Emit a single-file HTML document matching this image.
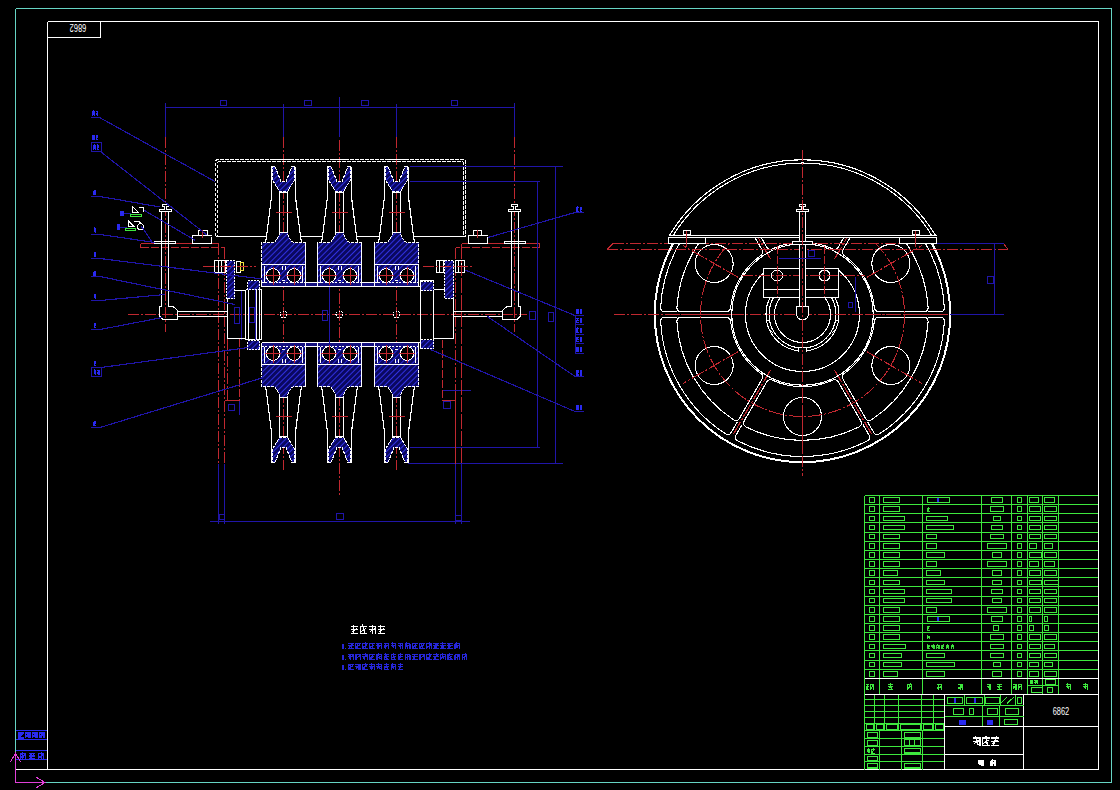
<!DOCTYPE html>
<html><head><meta charset="utf-8"><title>CAD</title>
<style>html,body{margin:0;padding:0;background:#000;overflow:hidden}svg{display:block}</style></head>
<body><svg shape-rendering="crispEdges" width="1120" height="790" viewBox="0 0 1120 790">
<rect width="1120" height="790" fill="#000"/>
<defs>
<pattern id="hatch" patternUnits="userSpaceOnUse" width="4" height="4" patternTransform="rotate(45)">
<rect width="4" height="4" fill="#0a0860"/><line x1="0" y1="0" x2="0" y2="4" stroke="#3030e0" stroke-width="1.4"/></pattern>
<filter id="soft" x="-5%" y="-20%" width="110%" height="140%"><feGaussianBlur stdDeviation="0.45"/></filter>
<clipPath id="wclip"><rect x="600" y="238" width="420" height="245"/></clipPath>
<clipPath id="hclip"><rect x="600" y="268.5" width="420" height="240"/></clipPath>
<clipPath id="rclip"><rect x="600" y="243.5" width="420" height="240"/></clipPath>
<clipPath id="bclip"><rect x="700" y="297.5" width="200" height="100"/></clipPath>
</defs>
<line x1="15.5" y1="8.5" x2="1111.5" y2="8.5" stroke="#66d4c4" stroke-width="1"/>
<line x1="1111.5" y1="8.5" x2="1111.5" y2="782.5" stroke="#66d4c4" stroke-width="1"/>
<line x1="45" y1="782.5" x2="1111.5" y2="782.5" stroke="#66d4c4" stroke-width="1"/>
<line x1="15.5" y1="8.5" x2="15.5" y2="752" stroke="#66d4c4" stroke-width="1"/>
<line x1="47.5" y1="21.5" x2="1098.5" y2="21.5" stroke="#ffffff" stroke-width="1"/>
<line x1="1098.5" y1="21.5" x2="1098.5" y2="769.5" stroke="#ffffff" stroke-width="1"/>
<line x1="16" y1="769.5" x2="1098.5" y2="769.5" stroke="#ffffff" stroke-width="1"/>
<line x1="47.5" y1="21.5" x2="47.5" y2="769.5" stroke="#ffffff" stroke-width="1"/>
<line x1="47.5" y1="37.5" x2="100.5" y2="37.5" stroke="#ffffff" stroke-width="1"/>
<line x1="100.5" y1="21.5" x2="100.5" y2="37.5" stroke="#ffffff" stroke-width="1"/>
<text x="78" y="31.6" font-family="Liberation Sans" font-size="10.5" fill="#ffffff" text-anchor="middle" transform="rotate(180 78 27.8)" textLength="16.6" lengthAdjust="spacingAndGlyphs">6862</text>
<line x1="15.5" y1="730.5" x2="47" y2="730.5" stroke="#2a2af0" stroke-width="1"/>
<line x1="15.5" y1="739.5" x2="47" y2="739.5" stroke="#2a2af0" stroke-width="1"/>
<line x1="15.5" y1="750.5" x2="47" y2="750.5" stroke="#2a2af0" stroke-width="1"/>
<line x1="15.5" y1="759.5" x2="47" y2="759.5" stroke="#2a2af0" stroke-width="1"/>
<g filter="url(#soft)">
<path d="M18 733.2L23.5 733.2 M19.65 732L20.75 738 M18.5 733.8L18.5 738 M18 738L23.5 738 M18.82 736.8L22.68 734.4" fill="none" stroke="#2a2af0" stroke-width="1.5"/>
<path d="M25 733.2L30.5 733.2 M26.65 732L28.85 738 M25.5 733.8L25.5 738 M30 733.2L30 738 M25.82 736.8L29.68 734.4" fill="none" stroke="#2a2af0" stroke-width="1.5"/>
<path d="M32 733.2L37.5 733.2 M34.75 732L35.85 738 M32.5 733.8L32.5 738 M37 733.2L37 738 M32.83 736.8L36.67 734.4" fill="none" stroke="#2a2af0" stroke-width="1.5"/>
<path d="M39 733.2L44.5 733.2 M42.85 732L40.65 738 M39.5 733.8L39.5 738 M44 733.2L44 738 M39.83 736.8L43.67 734.4" fill="none" stroke="#2a2af0" stroke-width="1.5"/>
<path d="M20 753.7L26 753.7 M21.8 752.5L23 758.5 M20.5 754.3L20.5 758.5 M25.5 753.7L25.5 758.5 M20.9 757.3L25.1 754.9" fill="none" stroke="#2a2af0" stroke-width="1.5"/>
<path d="M29 753.7L35 753.7 M30.8 752.5L30.8 758.5 M29 755.8L35 755.8 M29 758.5L35 758.5 M29.9 757.3L34.1 754.9" fill="none" stroke="#2a2af0" stroke-width="1.5"/>
<path d="M38 753.7L44 753.7 M42.2 752.5L41 758.5 M38.5 754.3L38.5 758.5 M43.5 753.7L43.5 758.5 M38.9 757.3L43.1 754.9" fill="none" stroke="#2a2af0" stroke-width="1.5"/>
</g>
<line x1="15.5" y1="753" x2="15.5" y2="782.5" stroke="#e040d8" stroke-width="1.2"/>
<line x1="15.5" y1="782.5" x2="45" y2="782.5" stroke="#e040d8" stroke-width="1.2"/>
<polyline points="10.5,762 15.5,753 20.5,762" fill="none" stroke="#e040d8" stroke-width="1"/>
<polyline points="36,777 45,782.5 36,788" fill="none" stroke="#e040d8" stroke-width="1"/>
<line x1="165.5" y1="107.5" x2="514.5" y2="107.5" stroke="#2015a8" stroke-width="1"/>
<line x1="165.5" y1="103" x2="165.5" y2="137" stroke="#2015a8" stroke-width="1"/>
<line x1="283.5" y1="104" x2="283.5" y2="137" stroke="#2015a8" stroke-width="1"/>
<line x1="339.5" y1="97" x2="339.5" y2="137" stroke="#2015a8" stroke-width="1"/>
<line x1="396.5" y1="104" x2="396.5" y2="137" stroke="#2015a8" stroke-width="1"/>
<line x1="514.5" y1="103" x2="514.5" y2="137" stroke="#2015a8" stroke-width="1"/>
<rect x="220.5" y="100.5" width="6" height="5" fill="none" stroke="#2015a8" stroke-width="1"/>
<rect x="304.5" y="100.5" width="7" height="5" fill="none" stroke="#2015a8" stroke-width="1"/>
<rect x="361.5" y="100.5" width="7" height="5" fill="none" stroke="#2015a8" stroke-width="1"/>
<rect x="451.5" y="100.5" width="6" height="5" fill="none" stroke="#2015a8" stroke-width="1"/>
<line x1="165.5" y1="137" x2="165.5" y2="332" stroke="#c02830" stroke-width="1" stroke-dasharray="11,2,2,2"/>
<line x1="514.5" y1="137" x2="514.5" y2="332" stroke="#c02830" stroke-width="1" stroke-dasharray="11,2,2,2"/>
<line x1="283.5" y1="137" x2="283.5" y2="470" stroke="#c02830" stroke-width="1" stroke-dasharray="11,2,2,2"/>
<line x1="396.5" y1="137" x2="396.5" y2="470" stroke="#c02830" stroke-width="1" stroke-dasharray="11,2,2,2"/>
<line x1="339.5" y1="140" x2="339.5" y2="495" stroke="#c02830" stroke-width="1" stroke-dasharray="11,2,2,2"/>
<line x1="128" y1="314.5" x2="527" y2="314.5" stroke="#c02830" stroke-width="1" stroke-dasharray="11,2,2,2"/>
<line x1="140.5" y1="243.5" x2="218.5" y2="243.5" stroke="#c02830" stroke-width="1"/>
<line x1="140.5" y1="247.5" x2="224.5" y2="247.5" stroke="#c02830" stroke-width="1" stroke-dasharray="8,2"/>
<line x1="140.5" y1="243.5" x2="140.5" y2="247.5" stroke="#c02830" stroke-width="1"/>
<line x1="218.5" y1="243.5" x2="218.5" y2="464" stroke="#c02830" stroke-width="1" stroke-dasharray="11,2,2,2"/>
<line x1="224.5" y1="247.5" x2="224.5" y2="464" stroke="#c02830" stroke-width="1" stroke-dasharray="11,2,2,2"/>
<line x1="218.5" y1="464" x2="218.5" y2="524" stroke="#2015a8" stroke-width="1"/>
<line x1="224.5" y1="464" x2="224.5" y2="524" stroke="#2015a8" stroke-width="1"/>
<line x1="539.5" y1="243.5" x2="461.5" y2="243.5" stroke="#c02830" stroke-width="1"/>
<line x1="539.5" y1="247.5" x2="455.5" y2="247.5" stroke="#c02830" stroke-width="1" stroke-dasharray="8,2"/>
<line x1="539.5" y1="243.5" x2="539.5" y2="247.5" stroke="#c02830" stroke-width="1"/>
<line x1="461.5" y1="243.5" x2="461.5" y2="464" stroke="#c02830" stroke-width="1" stroke-dasharray="11,2,2,2"/>
<line x1="455.5" y1="247.5" x2="455.5" y2="464" stroke="#c02830" stroke-width="1" stroke-dasharray="11,2,2,2"/>
<line x1="461.5" y1="464" x2="461.5" y2="524" stroke="#2015a8" stroke-width="1"/>
<line x1="455.5" y1="464" x2="455.5" y2="524" stroke="#2015a8" stroke-width="1"/>
<line x1="239.5" y1="339" x2="239.5" y2="400.5" stroke="#c02830" stroke-width="1" stroke-dasharray="8,2"/>
<line x1="227.5" y1="338.5" x2="227.5" y2="400.5" stroke="#c02830" stroke-width="1" stroke-dasharray="11,2,2,2"/>
<line x1="224.5" y1="400.5" x2="239.5" y2="400.5" stroke="#c02830" stroke-width="1"/>
<line x1="239.5" y1="400.5" x2="239.5" y2="415" stroke="#2015a8" stroke-width="1"/>
<rect x="228.5" y="404.5" width="6" height="6" fill="none" stroke="#2015a8" stroke-width="1"/>
<line x1="442.5" y1="340" x2="442.5" y2="400.5" stroke="#c02830" stroke-width="1" stroke-dasharray="8,2"/>
<line x1="442.5" y1="400.5" x2="455.5" y2="400.5" stroke="#c02830" stroke-width="1"/>
<line x1="442.5" y1="390.5" x2="471" y2="390.5" stroke="#2015a8" stroke-width="1"/>
<rect x="443.5" y="401.5" width="7" height="7" fill="none" stroke="#2015a8" stroke-width="1"/>
<path d="M215.5,236 L215.5,162 Q215.5,159.5 218,159.5 L463,159.5 Q465.5,159.5 465.5,162 L465.5,236" fill="none" stroke="#ffffff" stroke-width="1" stroke-dasharray="3.5,1.5"/>
<path d="M217.5,236 L217.5,163.5 Q217.5,161.5 219.5,161.5 L461.5,161.5 Q463.5,161.5 463.5,163.5 L463.5,236" fill="none" stroke="#ffffff" stroke-width="1" stroke-dasharray="3.5,1.5" stroke-dashoffset="2"/>
<line x1="273.5" y1="159.5" x2="292" y2="159.5" stroke="#ffffff" stroke-width="1"/>
<line x1="329.5" y1="159.5" x2="348" y2="159.5" stroke="#ffffff" stroke-width="1"/>
<line x1="386.5" y1="159.5" x2="405" y2="159.5" stroke="#ffffff" stroke-width="1"/>
<line x1="215.5" y1="236.5" x2="266.5" y2="236.5" stroke="#ffffff" stroke-width="1"/>
<line x1="300.5" y1="236.5" x2="322.5" y2="236.5" stroke="#ffffff" stroke-width="1"/>
<line x1="356.5" y1="236.5" x2="379.5" y2="236.5" stroke="#ffffff" stroke-width="1"/>
<line x1="413.5" y1="236.5" x2="465.5" y2="236.5" stroke="#ffffff" stroke-width="1"/>
<polygon points="279.5,232 279,235 277.5,238.5 275,241.5 273.5,242.5 261.5,242.5 261.5,264.5 261.5,286.5 305.5,286.5 305.5,264.5 261.5,264.5 305.5,264.5 305.5,242.5 293.5,242.5 292,241.5 289.5,238.5 288,235 287.5,232" fill="url(#hatch)" stroke="none" stroke-width="0"/>
<polyline points="279.5,232 279,235 277.5,238.5 275,241.5 273.5,242.5 261.5,242.5 261.5,264.5 305.5,264.5 305.5,242.5 293.5,242.5 292,241.5 289.5,238.5 288,235 287.5,232" fill="none" stroke="#ffffff" stroke-width="1" stroke-dasharray="3,1"/>
<line x1="261.5" y1="264.5" x2="261.5" y2="286.5" stroke="#ffffff" stroke-width="1"/>
<line x1="305.5" y1="264.5" x2="305.5" y2="286.5" stroke="#ffffff" stroke-width="1"/>
<line x1="261.5" y1="264.5" x2="305.5" y2="264.5" stroke="#ffffff" stroke-width="1" stroke-dasharray="3,1"/>
<line x1="264.5" y1="266" x2="264.5" y2="284" stroke="#ffffff" stroke-width="1"/>
<line x1="302.5" y1="266" x2="302.5" y2="284" stroke="#ffffff" stroke-width="1"/>
<line x1="282.5" y1="266" x2="282.5" y2="270" stroke="#ffffff" stroke-width="1"/>
<line x1="285.5" y1="266" x2="285.5" y2="270" stroke="#ffffff" stroke-width="1"/>
<line x1="282" y1="280.5" x2="285" y2="280.5" stroke="#ffffff" stroke-width="1"/>
<rect x="262" y="282.5" width="43" height="3.5" fill="#141080"/>
<line x1="261.5" y1="282.5" x2="305.5" y2="282.5" stroke="#ffffff" stroke-width="1" stroke-dasharray="2,1.5"/>
<circle cx="273" cy="275.5" r="6.8" fill="#000" stroke="#ffffff" stroke-width="1"/>
<line x1="265" y1="275.5" x2="281" y2="275.5" stroke="#c02830" stroke-width="1"/>
<line x1="273.5" y1="266.5" x2="273.5" y2="284.5" stroke="#c02830" stroke-width="1"/>
<circle cx="294" cy="275.5" r="6.8" fill="#000" stroke="#ffffff" stroke-width="1"/>
<line x1="286" y1="275.5" x2="302" y2="275.5" stroke="#c02830" stroke-width="1"/>
<line x1="294.5" y1="266.5" x2="294.5" y2="284.5" stroke="#c02830" stroke-width="1"/>
<rect x="279.5" y="192.5" width="8" height="40" fill="none" stroke="#ffffff" stroke-width="1"/>
<polyline points="271.5,166.5 271.5,197 266.5,236.5 265.5,242.5" fill="none" stroke="#ffffff" stroke-width="1.15"/>
<polyline points="295.5,166.5 295.5,197 300.5,236.5 301.5,242.5" fill="none" stroke="#ffffff" stroke-width="1.15"/>
<polygon points="272,166.5 275,166.5 281,181.5 286,181.5 292,166.5 295,166.5 294.5,180 287.5,191.5 279.5,191.5 272.5,180" fill="url(#hatch)" stroke="none" stroke-width="0"/>
<polygon points="272,166.5 275,166.5 281,181.5 286,181.5 292,166.5 295,166.5 294.5,180 287.5,191.5 279.5,191.5 272.5,180" fill="none" stroke="#ffffff" stroke-width="1" stroke-dasharray="3,1"/>
<line x1="275.5" y1="212.5" x2="291.5" y2="212.5" stroke="#c02830" stroke-width="1"/>
<polygon points="279.5,397 279,394 277.5,390.5 275,387.5 273.5,386.5 261.5,386.5 261.5,364.5 261.5,342.5 305.5,342.5 305.5,364.5 261.5,364.5 305.5,364.5 305.5,386.5 293.5,386.5 292,387.5 289.5,390.5 288,394 287.5,397" fill="url(#hatch)" stroke="none" stroke-width="0"/>
<polyline points="279.5,397 279,394 277.5,390.5 275,387.5 273.5,386.5 261.5,386.5 261.5,364.5 305.5,364.5 305.5,386.5 293.5,386.5 292,387.5 289.5,390.5 288,394 287.5,397" fill="none" stroke="#ffffff" stroke-width="1" stroke-dasharray="3,1"/>
<line x1="261.5" y1="364.5" x2="261.5" y2="342.5" stroke="#ffffff" stroke-width="1"/>
<line x1="305.5" y1="364.5" x2="305.5" y2="342.5" stroke="#ffffff" stroke-width="1"/>
<line x1="261.5" y1="364.5" x2="305.5" y2="364.5" stroke="#ffffff" stroke-width="1" stroke-dasharray="3,1"/>
<line x1="264.5" y1="363" x2="264.5" y2="345" stroke="#ffffff" stroke-width="1"/>
<line x1="302.5" y1="363" x2="302.5" y2="345" stroke="#ffffff" stroke-width="1"/>
<line x1="282.5" y1="363" x2="282.5" y2="359" stroke="#ffffff" stroke-width="1"/>
<line x1="285.5" y1="363" x2="285.5" y2="359" stroke="#ffffff" stroke-width="1"/>
<line x1="282" y1="349.5" x2="285" y2="349.5" stroke="#ffffff" stroke-width="1"/>
<rect x="262" y="343" width="43" height="3.5" fill="#141080"/>
<line x1="261.5" y1="346.5" x2="305.5" y2="346.5" stroke="#ffffff" stroke-width="1" stroke-dasharray="2,1.5"/>
<circle cx="273" cy="353.5" r="6.8" fill="#000" stroke="#ffffff" stroke-width="1"/>
<line x1="265" y1="353.5" x2="281" y2="353.5" stroke="#c02830" stroke-width="1"/>
<line x1="273.5" y1="362.5" x2="273.5" y2="344.5" stroke="#c02830" stroke-width="1"/>
<circle cx="294" cy="353.5" r="6.8" fill="#000" stroke="#ffffff" stroke-width="1"/>
<line x1="286" y1="353.5" x2="302" y2="353.5" stroke="#c02830" stroke-width="1"/>
<line x1="294.5" y1="362.5" x2="294.5" y2="344.5" stroke="#c02830" stroke-width="1"/>
<rect x="279.5" y="397.5" width="8" height="39" fill="none" stroke="#ffffff" stroke-width="1"/>
<polyline points="271.5,462.5 271.5,432 266.5,392.5 265.5,386.5" fill="none" stroke="#ffffff" stroke-width="1.15"/>
<polyline points="295.5,462.5 295.5,432 300.5,392.5 301.5,386.5" fill="none" stroke="#ffffff" stroke-width="1.15"/>
<polygon points="272,462.5 275,462.5 281,447.5 286,447.5 292,462.5 295,462.5 294.5,449 287.5,437.5 279.5,437.5 272.5,449" fill="url(#hatch)" stroke="none" stroke-width="0"/>
<polygon points="272,462.5 275,462.5 281,447.5 286,447.5 292,462.5 295,462.5 294.5,449 287.5,437.5 279.5,437.5 272.5,449" fill="none" stroke="#ffffff" stroke-width="1" stroke-dasharray="3,1"/>
<line x1="275.5" y1="416.5" x2="291.5" y2="416.5" stroke="#c02830" stroke-width="1"/>
<polygon points="335.5,232 335,235 333.5,238.5 331,241.5 329.5,242.5 317.5,242.5 317.5,264.5 317.5,286.5 361.5,286.5 361.5,264.5 317.5,264.5 361.5,264.5 361.5,242.5 349.5,242.5 348,241.5 345.5,238.5 344,235 343.5,232" fill="url(#hatch)" stroke="none" stroke-width="0"/>
<polyline points="335.5,232 335,235 333.5,238.5 331,241.5 329.5,242.5 317.5,242.5 317.5,264.5 361.5,264.5 361.5,242.5 349.5,242.5 348,241.5 345.5,238.5 344,235 343.5,232" fill="none" stroke="#ffffff" stroke-width="1" stroke-dasharray="3,1"/>
<line x1="317.5" y1="264.5" x2="317.5" y2="286.5" stroke="#ffffff" stroke-width="1"/>
<line x1="361.5" y1="264.5" x2="361.5" y2="286.5" stroke="#ffffff" stroke-width="1"/>
<line x1="317.5" y1="264.5" x2="361.5" y2="264.5" stroke="#ffffff" stroke-width="1" stroke-dasharray="3,1"/>
<line x1="320.5" y1="266" x2="320.5" y2="284" stroke="#ffffff" stroke-width="1"/>
<line x1="358.5" y1="266" x2="358.5" y2="284" stroke="#ffffff" stroke-width="1"/>
<line x1="338.5" y1="266" x2="338.5" y2="270" stroke="#ffffff" stroke-width="1"/>
<line x1="341.5" y1="266" x2="341.5" y2="270" stroke="#ffffff" stroke-width="1"/>
<line x1="338" y1="280.5" x2="341" y2="280.5" stroke="#ffffff" stroke-width="1"/>
<rect x="318" y="282.5" width="43" height="3.5" fill="#141080"/>
<line x1="317.5" y1="282.5" x2="361.5" y2="282.5" stroke="#ffffff" stroke-width="1" stroke-dasharray="2,1.5"/>
<circle cx="329" cy="275.5" r="6.8" fill="#000" stroke="#ffffff" stroke-width="1"/>
<line x1="321" y1="275.5" x2="337" y2="275.5" stroke="#c02830" stroke-width="1"/>
<line x1="329.5" y1="266.5" x2="329.5" y2="284.5" stroke="#c02830" stroke-width="1"/>
<circle cx="350" cy="275.5" r="6.8" fill="#000" stroke="#ffffff" stroke-width="1"/>
<line x1="342" y1="275.5" x2="358" y2="275.5" stroke="#c02830" stroke-width="1"/>
<line x1="350.5" y1="266.5" x2="350.5" y2="284.5" stroke="#c02830" stroke-width="1"/>
<rect x="335.5" y="192.5" width="8" height="40" fill="none" stroke="#ffffff" stroke-width="1"/>
<polyline points="327.5,166.5 327.5,197 322.5,236.5 321.5,242.5" fill="none" stroke="#ffffff" stroke-width="1.15"/>
<polyline points="351.5,166.5 351.5,197 356.5,236.5 357.5,242.5" fill="none" stroke="#ffffff" stroke-width="1.15"/>
<polygon points="328,166.5 331,166.5 337,181.5 342,181.5 348,166.5 351,166.5 350.5,180 343.5,191.5 335.5,191.5 328.5,180" fill="url(#hatch)" stroke="none" stroke-width="0"/>
<polygon points="328,166.5 331,166.5 337,181.5 342,181.5 348,166.5 351,166.5 350.5,180 343.5,191.5 335.5,191.5 328.5,180" fill="none" stroke="#ffffff" stroke-width="1" stroke-dasharray="3,1"/>
<line x1="331.5" y1="212.5" x2="347.5" y2="212.5" stroke="#c02830" stroke-width="1"/>
<polygon points="335.5,397 335,394 333.5,390.5 331,387.5 329.5,386.5 317.5,386.5 317.5,364.5 317.5,342.5 361.5,342.5 361.5,364.5 317.5,364.5 361.5,364.5 361.5,386.5 349.5,386.5 348,387.5 345.5,390.5 344,394 343.5,397" fill="url(#hatch)" stroke="none" stroke-width="0"/>
<polyline points="335.5,397 335,394 333.5,390.5 331,387.5 329.5,386.5 317.5,386.5 317.5,364.5 361.5,364.5 361.5,386.5 349.5,386.5 348,387.5 345.5,390.5 344,394 343.5,397" fill="none" stroke="#ffffff" stroke-width="1" stroke-dasharray="3,1"/>
<line x1="317.5" y1="364.5" x2="317.5" y2="342.5" stroke="#ffffff" stroke-width="1"/>
<line x1="361.5" y1="364.5" x2="361.5" y2="342.5" stroke="#ffffff" stroke-width="1"/>
<line x1="317.5" y1="364.5" x2="361.5" y2="364.5" stroke="#ffffff" stroke-width="1" stroke-dasharray="3,1"/>
<line x1="320.5" y1="363" x2="320.5" y2="345" stroke="#ffffff" stroke-width="1"/>
<line x1="358.5" y1="363" x2="358.5" y2="345" stroke="#ffffff" stroke-width="1"/>
<line x1="338.5" y1="363" x2="338.5" y2="359" stroke="#ffffff" stroke-width="1"/>
<line x1="341.5" y1="363" x2="341.5" y2="359" stroke="#ffffff" stroke-width="1"/>
<line x1="338" y1="349.5" x2="341" y2="349.5" stroke="#ffffff" stroke-width="1"/>
<rect x="318" y="343" width="43" height="3.5" fill="#141080"/>
<line x1="317.5" y1="346.5" x2="361.5" y2="346.5" stroke="#ffffff" stroke-width="1" stroke-dasharray="2,1.5"/>
<circle cx="329" cy="353.5" r="6.8" fill="#000" stroke="#ffffff" stroke-width="1"/>
<line x1="321" y1="353.5" x2="337" y2="353.5" stroke="#c02830" stroke-width="1"/>
<line x1="329.5" y1="362.5" x2="329.5" y2="344.5" stroke="#c02830" stroke-width="1"/>
<circle cx="350" cy="353.5" r="6.8" fill="#000" stroke="#ffffff" stroke-width="1"/>
<line x1="342" y1="353.5" x2="358" y2="353.5" stroke="#c02830" stroke-width="1"/>
<line x1="350.5" y1="362.5" x2="350.5" y2="344.5" stroke="#c02830" stroke-width="1"/>
<rect x="335.5" y="397.5" width="8" height="39" fill="none" stroke="#ffffff" stroke-width="1"/>
<polyline points="327.5,462.5 327.5,432 322.5,392.5 321.5,386.5" fill="none" stroke="#ffffff" stroke-width="1.15"/>
<polyline points="351.5,462.5 351.5,432 356.5,392.5 357.5,386.5" fill="none" stroke="#ffffff" stroke-width="1.15"/>
<polygon points="328,462.5 331,462.5 337,447.5 342,447.5 348,462.5 351,462.5 350.5,449 343.5,437.5 335.5,437.5 328.5,449" fill="url(#hatch)" stroke="none" stroke-width="0"/>
<polygon points="328,462.5 331,462.5 337,447.5 342,447.5 348,462.5 351,462.5 350.5,449 343.5,437.5 335.5,437.5 328.5,449" fill="none" stroke="#ffffff" stroke-width="1" stroke-dasharray="3,1"/>
<line x1="331.5" y1="416.5" x2="347.5" y2="416.5" stroke="#c02830" stroke-width="1"/>
<polygon points="392.5,232 392,235 390.5,238.5 388,241.5 386.5,242.5 374.5,242.5 374.5,264.5 374.5,286.5 418.5,286.5 418.5,264.5 374.5,264.5 418.5,264.5 418.5,242.5 406.5,242.5 405,241.5 402.5,238.5 401,235 400.5,232" fill="url(#hatch)" stroke="none" stroke-width="0"/>
<polyline points="392.5,232 392,235 390.5,238.5 388,241.5 386.5,242.5 374.5,242.5 374.5,264.5 418.5,264.5 418.5,242.5 406.5,242.5 405,241.5 402.5,238.5 401,235 400.5,232" fill="none" stroke="#ffffff" stroke-width="1" stroke-dasharray="3,1"/>
<line x1="374.5" y1="264.5" x2="374.5" y2="286.5" stroke="#ffffff" stroke-width="1"/>
<line x1="418.5" y1="264.5" x2="418.5" y2="286.5" stroke="#ffffff" stroke-width="1"/>
<line x1="374.5" y1="264.5" x2="418.5" y2="264.5" stroke="#ffffff" stroke-width="1" stroke-dasharray="3,1"/>
<line x1="377.5" y1="266" x2="377.5" y2="284" stroke="#ffffff" stroke-width="1"/>
<line x1="415.5" y1="266" x2="415.5" y2="284" stroke="#ffffff" stroke-width="1"/>
<line x1="395.5" y1="266" x2="395.5" y2="270" stroke="#ffffff" stroke-width="1"/>
<line x1="398.5" y1="266" x2="398.5" y2="270" stroke="#ffffff" stroke-width="1"/>
<line x1="395" y1="280.5" x2="398" y2="280.5" stroke="#ffffff" stroke-width="1"/>
<rect x="375" y="282.5" width="43" height="3.5" fill="#141080"/>
<line x1="374.5" y1="282.5" x2="418.5" y2="282.5" stroke="#ffffff" stroke-width="1" stroke-dasharray="2,1.5"/>
<circle cx="386" cy="275.5" r="6.8" fill="#000" stroke="#ffffff" stroke-width="1"/>
<line x1="378" y1="275.5" x2="394" y2="275.5" stroke="#c02830" stroke-width="1"/>
<line x1="386.5" y1="266.5" x2="386.5" y2="284.5" stroke="#c02830" stroke-width="1"/>
<circle cx="407" cy="275.5" r="6.8" fill="#000" stroke="#ffffff" stroke-width="1"/>
<line x1="399" y1="275.5" x2="415" y2="275.5" stroke="#c02830" stroke-width="1"/>
<line x1="407.5" y1="266.5" x2="407.5" y2="284.5" stroke="#c02830" stroke-width="1"/>
<rect x="392.5" y="192.5" width="8" height="40" fill="none" stroke="#ffffff" stroke-width="1"/>
<polyline points="384.5,166.5 384.5,197 379.5,236.5 378.5,242.5" fill="none" stroke="#ffffff" stroke-width="1.15"/>
<polyline points="408.5,166.5 408.5,197 413.5,236.5 414.5,242.5" fill="none" stroke="#ffffff" stroke-width="1.15"/>
<polygon points="385,166.5 388,166.5 394,181.5 399,181.5 405,166.5 408,166.5 407.5,180 400.5,191.5 392.5,191.5 385.5,180" fill="url(#hatch)" stroke="none" stroke-width="0"/>
<polygon points="385,166.5 388,166.5 394,181.5 399,181.5 405,166.5 408,166.5 407.5,180 400.5,191.5 392.5,191.5 385.5,180" fill="none" stroke="#ffffff" stroke-width="1" stroke-dasharray="3,1"/>
<line x1="388.5" y1="212.5" x2="404.5" y2="212.5" stroke="#c02830" stroke-width="1"/>
<polygon points="392.5,397 392,394 390.5,390.5 388,387.5 386.5,386.5 374.5,386.5 374.5,364.5 374.5,342.5 418.5,342.5 418.5,364.5 374.5,364.5 418.5,364.5 418.5,386.5 406.5,386.5 405,387.5 402.5,390.5 401,394 400.5,397" fill="url(#hatch)" stroke="none" stroke-width="0"/>
<polyline points="392.5,397 392,394 390.5,390.5 388,387.5 386.5,386.5 374.5,386.5 374.5,364.5 418.5,364.5 418.5,386.5 406.5,386.5 405,387.5 402.5,390.5 401,394 400.5,397" fill="none" stroke="#ffffff" stroke-width="1" stroke-dasharray="3,1"/>
<line x1="374.5" y1="364.5" x2="374.5" y2="342.5" stroke="#ffffff" stroke-width="1"/>
<line x1="418.5" y1="364.5" x2="418.5" y2="342.5" stroke="#ffffff" stroke-width="1"/>
<line x1="374.5" y1="364.5" x2="418.5" y2="364.5" stroke="#ffffff" stroke-width="1" stroke-dasharray="3,1"/>
<line x1="377.5" y1="363" x2="377.5" y2="345" stroke="#ffffff" stroke-width="1"/>
<line x1="415.5" y1="363" x2="415.5" y2="345" stroke="#ffffff" stroke-width="1"/>
<line x1="395.5" y1="363" x2="395.5" y2="359" stroke="#ffffff" stroke-width="1"/>
<line x1="398.5" y1="363" x2="398.5" y2="359" stroke="#ffffff" stroke-width="1"/>
<line x1="395" y1="349.5" x2="398" y2="349.5" stroke="#ffffff" stroke-width="1"/>
<rect x="375" y="343" width="43" height="3.5" fill="#141080"/>
<line x1="374.5" y1="346.5" x2="418.5" y2="346.5" stroke="#ffffff" stroke-width="1" stroke-dasharray="2,1.5"/>
<circle cx="386" cy="353.5" r="6.8" fill="#000" stroke="#ffffff" stroke-width="1"/>
<line x1="378" y1="353.5" x2="394" y2="353.5" stroke="#c02830" stroke-width="1"/>
<line x1="386.5" y1="362.5" x2="386.5" y2="344.5" stroke="#c02830" stroke-width="1"/>
<circle cx="407" cy="353.5" r="6.8" fill="#000" stroke="#ffffff" stroke-width="1"/>
<line x1="399" y1="353.5" x2="415" y2="353.5" stroke="#c02830" stroke-width="1"/>
<line x1="407.5" y1="362.5" x2="407.5" y2="344.5" stroke="#c02830" stroke-width="1"/>
<rect x="392.5" y="397.5" width="8" height="39" fill="none" stroke="#ffffff" stroke-width="1"/>
<polyline points="384.5,462.5 384.5,432 379.5,392.5 378.5,386.5" fill="none" stroke="#ffffff" stroke-width="1.15"/>
<polyline points="408.5,462.5 408.5,432 413.5,392.5 414.5,386.5" fill="none" stroke="#ffffff" stroke-width="1.15"/>
<polygon points="385,462.5 388,462.5 394,447.5 399,447.5 405,462.5 408,462.5 407.5,449 400.5,437.5 392.5,437.5 385.5,449" fill="url(#hatch)" stroke="none" stroke-width="0"/>
<polygon points="385,462.5 388,462.5 394,447.5 399,447.5 405,462.5 408,462.5 407.5,449 400.5,437.5 392.5,437.5 385.5,449" fill="none" stroke="#ffffff" stroke-width="1" stroke-dasharray="3,1"/>
<line x1="388.5" y1="416.5" x2="404.5" y2="416.5" stroke="#c02830" stroke-width="1"/>
<rect x="305.5" y="282.5" width="12" height="4" fill="#141080" stroke="#ffffff" stroke-width="1"/>
<rect x="305.5" y="342.5" width="12" height="4" fill="#141080" stroke="#ffffff" stroke-width="1"/>
<line x1="305.5" y1="243" x2="305.5" y2="282.5" stroke="#ffffff" stroke-width="1"/>
<line x1="317.5" y1="243" x2="317.5" y2="282.5" stroke="#ffffff" stroke-width="1"/>
<line x1="305.5" y1="386" x2="305.5" y2="346.5" stroke="#ffffff" stroke-width="1"/>
<line x1="317.5" y1="386" x2="317.5" y2="346.5" stroke="#ffffff" stroke-width="1"/>
<rect x="361.5" y="282.5" width="13" height="4" fill="#141080" stroke="#ffffff" stroke-width="1"/>
<rect x="361.5" y="342.5" width="13" height="4" fill="#141080" stroke="#ffffff" stroke-width="1"/>
<line x1="361.5" y1="243" x2="361.5" y2="282.5" stroke="#ffffff" stroke-width="1"/>
<line x1="374.5" y1="243" x2="374.5" y2="282.5" stroke="#ffffff" stroke-width="1"/>
<line x1="361.5" y1="386" x2="361.5" y2="346.5" stroke="#ffffff" stroke-width="1"/>
<line x1="374.5" y1="386" x2="374.5" y2="346.5" stroke="#ffffff" stroke-width="1"/>
<line x1="261.5" y1="286.5" x2="420" y2="286.5" stroke="#ffffff" stroke-width="1"/>
<line x1="261.5" y1="342.5" x2="420" y2="342.5" stroke="#ffffff" stroke-width="1"/>
<line x1="329.5" y1="286.5" x2="329.5" y2="342.5" stroke="#2015a8" stroke-width="1"/>
<rect x="322.5" y="310.5" width="5" height="10" fill="none" stroke="#2015a8" stroke-width="1"/>
<circle cx="283.5" cy="314.5" r="3.5" fill="none" stroke="#ffffff" stroke-width="1" stroke-dasharray="2,1"/>
<circle cx="339.5" cy="314.5" r="3.5" fill="none" stroke="#ffffff" stroke-width="1" stroke-dasharray="2,1"/>
<circle cx="396.5" cy="314.5" r="3.5" fill="none" stroke="#ffffff" stroke-width="1" stroke-dasharray="2,1"/>
<line x1="245.5" y1="289.5" x2="245.5" y2="339.5" stroke="#ffffff" stroke-width="1"/>
<line x1="248.5" y1="289.5" x2="248.5" y2="339.5" stroke="#ffffff" stroke-width="1"/>
<line x1="256.5" y1="289.5" x2="256.5" y2="339.5" stroke="#ffffff" stroke-width="1"/>
<line x1="259.5" y1="289.5" x2="259.5" y2="339.5" stroke="#ffffff" stroke-width="1"/>
<line x1="261.5" y1="289.5" x2="261.5" y2="339.5" stroke="#ffffff" stroke-width="1"/>
<line x1="245.5" y1="289.5" x2="261.5" y2="289.5" stroke="#ffffff" stroke-width="1"/>
<line x1="245.5" y1="339.5" x2="261.5" y2="339.5" stroke="#ffffff" stroke-width="1"/>
<rect x="247.5" y="280.5" width="12" height="9" fill="url(#hatch)" stroke="#ffffff" stroke-width="1" stroke-dasharray="2,1"/>
<rect x="247.5" y="340.5" width="12" height="9" fill="url(#hatch)" stroke="#ffffff" stroke-width="1" stroke-dasharray="2,1"/>
<line x1="241.5" y1="290" x2="241.5" y2="340" stroke="#2015a8" stroke-width="1"/>
<line x1="255.5" y1="290" x2="255.5" y2="340" stroke="#2015a8" stroke-width="1"/>
<rect x="234.5" y="307.5" width="5" height="16" fill="none" stroke="#2015a8" stroke-width="1"/>
<rect x="249.5" y="307.5" width="5" height="15" fill="none" stroke="#2015a8" stroke-width="1"/>
<rect x="226.5" y="260.5" width="8" height="38" fill="url(#hatch)" stroke="#ffffff" stroke-width="1" stroke-dasharray="2,1"/>
<line x1="227.5" y1="298" x2="227.5" y2="338.5" stroke="#ffffff" stroke-width="1"/>
<line x1="227.5" y1="338.5" x2="245" y2="338.5" stroke="#ffffff" stroke-width="1"/>
<line x1="234.5" y1="290.5" x2="245" y2="290.5" stroke="#ffffff" stroke-width="1"/>
<rect x="214.5" y="260.5" width="11" height="12" fill="none" stroke="#ffffff" stroke-width="1"/>
<line x1="218.5" y1="260.5" x2="218.5" y2="272.5" stroke="#ffffff" stroke-width="1"/>
<line x1="221.5" y1="260.5" x2="221.5" y2="272.5" stroke="#ffffff" stroke-width="1"/>
<rect x="236.5" y="261.5" width="4" height="11" fill="none" stroke="#ffffff" stroke-width="1"/>
<rect x="240.5" y="262.5" width="3" height="8" fill="none" stroke="#f0e040" stroke-width="1"/>
<line x1="203" y1="266.5" x2="256" y2="266.5" stroke="#c02830" stroke-width="1" stroke-dasharray="11,2,2,2"/>
<rect x="420.5" y="280.5" width="13" height="68" fill="none" stroke="#ffffff" stroke-width="1"/>
<rect x="433.5" y="289.5" width="20" height="49" fill="none" stroke="#ffffff" stroke-width="1"/>
<rect x="420.5" y="281.5" width="13" height="9" fill="url(#hatch)" stroke="#ffffff" stroke-width="1" stroke-dasharray="2,1"/>
<rect x="420.5" y="339.5" width="13" height="9" fill="url(#hatch)" stroke="#ffffff" stroke-width="1" stroke-dasharray="2,1"/>
<rect x="444.5" y="260.5" width="9" height="38" fill="url(#hatch)" stroke="#ffffff" stroke-width="1" stroke-dasharray="2,1"/>
<rect x="436.5" y="260.5" width="7" height="12" fill="none" stroke="#ffffff" stroke-width="1"/>
<line x1="439.5" y1="260.5" x2="439.5" y2="272" stroke="#ffffff" stroke-width="1"/>
<rect x="455.5" y="260.5" width="9" height="12" fill="none" stroke="#ffffff" stroke-width="1"/>
<line x1="458.5" y1="260.5" x2="458.5" y2="272" stroke="#ffffff" stroke-width="1"/>
<line x1="461.5" y1="260.5" x2="461.5" y2="272" stroke="#ffffff" stroke-width="1"/>
<line x1="423" y1="266.5" x2="472" y2="266.5" stroke="#c02830" stroke-width="1" stroke-dasharray="11,2,2,2"/>
<line x1="177.5" y1="311.5" x2="227.5" y2="311.5" stroke="#ffffff" stroke-width="1"/>
<line x1="177.5" y1="316.5" x2="227.5" y2="316.5" stroke="#ffffff" stroke-width="1"/>
<polyline points="161.5,306.5 159.5,306.5 159.5,316 163,319.5 177.5,319.5 177.5,310.5 173,306.5 169,306.5" fill="none" stroke="#ffffff" stroke-width="1"/>
<line x1="161.5" y1="211.5" x2="161.5" y2="306.5" stroke="#ffffff" stroke-width="1"/>
<line x1="168.5" y1="211.5" x2="168.5" y2="306.5" stroke="#ffffff" stroke-width="1"/>
<path d="M162.7 204.5 L168.3 204.5 L168.3 206.5 L166.7 206.5 L166.7 209.3 L171.2 209.3 L171.2 211.7 L159.8 211.7 L159.8 209.3 L164.3 209.3 L164.3 206.5 L162.7 206.5 Z" fill="#000" stroke="#ffffff" stroke-width="1.1"/>
<rect x="154.5" y="241.5" width="21" height="2" fill="none" stroke="#ffffff" stroke-width="1"/>
<rect x="192.5" y="235.5" width="19" height="8" fill="none" stroke="#ffffff" stroke-width="1"/>
<line x1="192.5" y1="236.5" x2="211.5" y2="236.5" stroke="#000" stroke-width="1" stroke-dasharray="3,1"/>
<rect x="198.5" y="230.5" width="9" height="5" fill="none" stroke="#ffffff" stroke-width="1"/>
<line x1="202.5" y1="230" x2="202.5" y2="238" stroke="#c02830" stroke-width="1"/>
<line x1="502.5" y1="311.5" x2="452.5" y2="311.5" stroke="#ffffff" stroke-width="1"/>
<line x1="502.5" y1="316.5" x2="452.5" y2="316.5" stroke="#ffffff" stroke-width="1"/>
<polyline points="518.5,306.5 520.5,306.5 520.5,316 517,319.5 502.5,319.5 502.5,310.5 507,306.5 511,306.5" fill="none" stroke="#ffffff" stroke-width="1"/>
<line x1="518.5" y1="211.5" x2="518.5" y2="306.5" stroke="#ffffff" stroke-width="1"/>
<line x1="511.5" y1="211.5" x2="511.5" y2="306.5" stroke="#ffffff" stroke-width="1"/>
<path d="M511.7 204.5 L517.3 204.5 L517.3 206.5 L515.7 206.5 L515.7 209.3 L520.2 209.3 L520.2 211.7 L508.8 211.7 L508.8 209.3 L513.3 209.3 L513.3 206.5 L511.7 206.5 Z" fill="#000" stroke="#ffffff" stroke-width="1.1"/>
<rect x="504.5" y="241.5" width="21" height="2" fill="none" stroke="#ffffff" stroke-width="1"/>
<rect x="468.5" y="235.5" width="19" height="8" fill="none" stroke="#ffffff" stroke-width="1"/>
<line x1="468.5" y1="236.5" x2="487.5" y2="236.5" stroke="#000" stroke-width="1" stroke-dasharray="3,1"/>
<rect x="473.5" y="230.5" width="8" height="5" fill="none" stroke="#ffffff" stroke-width="1"/>
<line x1="477.5" y1="230" x2="477.5" y2="238" stroke="#c02830" stroke-width="1"/>
<line x1="409.5" y1="166.5" x2="563" y2="166.5" stroke="#2015a8" stroke-width="1"/>
<line x1="555.5" y1="166.5" x2="555.5" y2="463.5" stroke="#2015a8" stroke-width="1"/>
<line x1="408" y1="463.5" x2="563" y2="463.5" stroke="#2015a8" stroke-width="1"/>
<line x1="409.5" y1="181.5" x2="540" y2="181.5" stroke="#2015a8" stroke-width="1"/>
<line x1="537.5" y1="181.5" x2="537.5" y2="447.5" stroke="#2015a8" stroke-width="1"/>
<line x1="410" y1="447.5" x2="540" y2="447.5" stroke="#2015a8" stroke-width="1"/>
<rect x="529.5" y="311.5" width="6" height="8" fill="none" stroke="#2015a8" stroke-width="1"/>
<rect x="548.5" y="312.5" width="5" height="9" fill="none" stroke="#2015a8" stroke-width="1"/>
<rect x="529.5" y="311.5" width="6" height="8" fill="none" stroke="#2015a8" stroke-width="1"/>
<line x1="210" y1="521.5" x2="470" y2="521.5" stroke="#2015a8" stroke-width="1"/>
<line x1="455.5" y1="464" x2="455.5" y2="522" stroke="#2015a8" stroke-width="1"/>
<line x1="461.5" y1="464" x2="461.5" y2="522" stroke="#2015a8" stroke-width="1"/>
<line x1="455.5" y1="395" x2="455.5" y2="464" stroke="#c02830" stroke-width="1" stroke-dasharray="11,2,2,2"/>
<line x1="461.5" y1="247.5" x2="461.5" y2="464" stroke="#c02830" stroke-width="1" stroke-dasharray="11,2,2,2"/>
<rect x="336.5" y="513.5" width="7" height="6" fill="none" stroke="#2015a8" stroke-width="1"/>
<rect x="219.5" y="514.5" width="5" height="5" fill="none" stroke="#2015a8" stroke-width="1"/>
<rect x="455.5" y="515.5" width="6" height="5" fill="none" stroke="#2015a8" stroke-width="1"/>
<g filter="url(#soft)">
<path d="M92 111.5L94.6 111.5 M93.82 110.5L92.78 115.5 M92.5 112L92.5 115.5 M94.1 111.5L94.1 115.5 M92.39 114.5L94.21 112.5" fill="none" stroke="#2a2af0" stroke-width="1.1"/>
<path d="M95.6 111.5L98.2 111.5 M97.42 110.5L97.42 115.5 M95.6 113.25L98.2 113.25 M97.7 111.5L97.7 115.5 M95.99 114.5L97.81 112.5" fill="none" stroke="#2a2af0" stroke-width="1.1"/>
</g>
<line x1="91" y1="117.5" x2="99.5" y2="117.5" stroke="#2015a8" stroke-width="1"/>
<line x1="99.5" y1="117.5" x2="215" y2="181.5" stroke="#2015a8" stroke-width="1.15"/>
<g filter="url(#soft)">
<path d="M92 135.5L94.6 135.5 M93.82 134.5L93.82 139.5 M92.5 136L92.5 139.5 M94.1 135.5L94.1 139.5 M92.39 138.5L94.21 136.5" fill="none" stroke="#2a2af0" stroke-width="1.1"/>
<path d="M95.6 135.5L98.2 135.5 M96.38 134.5L96.38 139.5 M95.6 137.25L98.2 137.25 M95.6 139.5L98.2 139.5 M95.99 138.5L97.81 136.5" fill="none" stroke="#2a2af0" stroke-width="1.1"/>
</g>
<rect x="91.5" y="142.5" width="10" height="9" fill="none" stroke="#2015a8" stroke-width="1"/>
<g filter="url(#soft)">
<path d="M93 145.5L95.6 145.5 M94.82 144.5L93.78 149.5 M93.5 146L93.5 149.5 M95.1 145.5L95.1 149.5 M93.39 148.5L95.21 146.5" fill="none" stroke="#2a2af0" stroke-width="1.1"/>
<path d="M96.6 145.5L99.2 145.5 M97.9 144.5L97.38 149.5 M97.1 146L97.1 149.5 M96.6 149.5L99.2 149.5 M96.99 148.5L98.81 146.5" fill="none" stroke="#2a2af0" stroke-width="1.1"/>
</g>
<line x1="101" y1="152" x2="207" y2="235" stroke="#2015a8" stroke-width="1.15"/>
<g filter="url(#soft)">
<path d="M93.5 190.5L96.1 190.5 M95.32 189.5L94.8 194.5 M94 191L94 194.5 M95.6 190.5L95.6 194.5 M93.89 193.5L95.71 191.5" fill="none" stroke="#2a2af0" stroke-width="1.1"/>
</g>
<line x1="91" y1="196.5" x2="100" y2="196.5" stroke="#2015a8" stroke-width="1"/>
<line x1="100" y1="196.5" x2="160" y2="207" stroke="#2015a8" stroke-width="1.15"/>
<g filter="url(#soft)">
<path d="M93.5 228.5L96.1 228.5 M94.28 227.5L95.32 232.5 M93.5 230.25L96.1 230.25 M95.6 228.5L95.6 232.5 M93.89 231.5L95.71 229.5" fill="none" stroke="#2a2af0" stroke-width="1.1"/>
</g>
<line x1="91" y1="234.5" x2="100" y2="234.5" stroke="#2015a8" stroke-width="1"/>
<line x1="100" y1="234.5" x2="155" y2="242.5" stroke="#2015a8" stroke-width="1.15"/>
<g filter="url(#soft)">
<path d="M93.5 253L96.1 253 M94.8 252L94.28 257 M93.5 254.75L96.1 254.75 M95.6 253L95.6 257 M93.89 256L95.71 254" fill="none" stroke="#2a2af0" stroke-width="1.1"/>
</g>
<line x1="91" y1="258.5" x2="100" y2="258.5" stroke="#2015a8" stroke-width="1"/>
<line x1="100" y1="258.5" x2="262" y2="279" stroke="#2015a8" stroke-width="1.15"/>
<g filter="url(#soft)">
<path d="M93.5 271.5L96.1 271.5 M95.32 270.5L94.28 275.5 M94 272L94 275.5 M95.6 271.5L95.6 275.5 M93.89 274.5L95.71 272.5" fill="none" stroke="#2a2af0" stroke-width="1.1"/>
</g>
<line x1="91" y1="276.5" x2="100" y2="276.5" stroke="#2015a8" stroke-width="1"/>
<line x1="100" y1="276.5" x2="235" y2="304.5" stroke="#2015a8" stroke-width="1.15"/>
<g filter="url(#soft)">
<path d="M93.5 294.5L96.1 294.5 M94.8 293.5L95.32 298.5 M93.5 296.25L96.1 296.25 M95.6 294.5L95.6 298.5 M93.89 297.5L95.71 295.5" fill="none" stroke="#2a2af0" stroke-width="1.1"/>
</g>
<line x1="91" y1="300.5" x2="100" y2="300.5" stroke="#2015a8" stroke-width="1"/>
<line x1="100" y1="300.5" x2="165" y2="294.5" stroke="#2015a8" stroke-width="1.15"/>
<g filter="url(#soft)">
<path d="M93.5 323.5L96.1 323.5 M94.8 322.5L94.8 327.5 M93.5 325.25L96.1 325.25 M93.5 327.5L96.1 327.5 M93.89 326.5L95.71 324.5" fill="none" stroke="#2a2af0" stroke-width="1.1"/>
</g>
<line x1="91" y1="329.5" x2="100" y2="329.5" stroke="#2015a8" stroke-width="1"/>
<line x1="100" y1="329.5" x2="162.5" y2="317.5" stroke="#2015a8" stroke-width="1.15"/>
<g filter="url(#soft)">
<path d="M93.5 361.5L96.1 361.5 M94.8 360.5L94.8 365.5 M93.5 363.25L96.1 363.25 M93.5 365.5L96.1 365.5 M93.89 364.5L95.71 362.5" fill="none" stroke="#2a2af0" stroke-width="1.1"/>
</g>
<line x1="91" y1="367.5" x2="101" y2="367.5" stroke="#2015a8" stroke-width="1"/>
<rect x="91.5" y="367.5" width="10" height="9" fill="none" stroke="#2015a8" stroke-width="1"/>
<g filter="url(#soft)">
<path d="M93.5 370.5L96.1 370.5 M94.28 369.5L95.32 374.5 M93.5 372.25L96.1 372.25 M95.6 370.5L95.6 374.5 M93.89 373.5L95.71 371.5" fill="none" stroke="#2a2af0" stroke-width="1.1"/>
<path d="M97.1 370.5L99.7 370.5 M97.88 369.5L98.92 374.5 M97.1 372.25L99.7 372.25 M99.2 370.5L99.2 374.5 M97.49 373.5L99.31 371.5" fill="none" stroke="#2a2af0" stroke-width="1.1"/>
</g>
<line x1="101" y1="367.5" x2="248.5" y2="347.5" stroke="#2015a8" stroke-width="1.15"/>
<g filter="url(#soft)">
<path d="M93.5 421.5L96.1 421.5 M95.32 420.5L94.8 425.5 M94 422L94 425.5 M93.5 425.5L96.1 425.5 M93.89 424.5L95.71 422.5" fill="none" stroke="#2a2af0" stroke-width="1.1"/>
</g>
<line x1="91" y1="427.5" x2="100" y2="427.5" stroke="#2015a8" stroke-width="1"/>
<line x1="100" y1="427.5" x2="263.5" y2="377.5" stroke="#2015a8" stroke-width="1.15"/>
<rect x="120" y="210.5" width="3.5" height="5" fill="#2a2af0"/>
<line x1="123.5" y1="213.5" x2="131" y2="213.5" stroke="#2015a8" stroke-width="1"/>
<polygon points="132.5,212.5 132.5,206.5 138.5,212.5" fill="none" stroke="#ffffff" stroke-width="1"/>
<polyline points="138.5,207 143.5,207 143.5,212" fill="none" stroke="#ffffff" stroke-width="1"/>
<rect x="130.5" y="214.5" width="11" height="2" fill="none" stroke="#3ee83e" stroke-width="1"/>
<rect x="116.5" y="224" width="3.5" height="5.5" fill="#2a2af0"/>
<line x1="120" y1="227.5" x2="127" y2="227.5" stroke="#2015a8" stroke-width="1"/>
<polygon points="128,226.5 128,220.5 134,226.5" fill="none" stroke="#ffffff" stroke-width="1"/>
<polyline points="134,221 139,221 140.5,223" fill="none" stroke="#ffffff" stroke-width="1"/>
<circle cx="140.5" cy="226.5" r="3" fill="none" stroke="#ffffff" stroke-width="1"/>
<rect x="125.5" y="228.5" width="10" height="2" fill="none" stroke="#3ee83e" stroke-width="1"/>
<line x1="144.5" y1="210.5" x2="195.5" y2="240.5" stroke="#2015a8" stroke-width="1.15"/>
<line x1="140.8" y1="225.6" x2="151.4" y2="240.8" stroke="#2015a8" stroke-width="1.15"/>
<g filter="url(#soft)">
<path d="M576 207.5L578.6 207.5 M577.82 206.5L577.3 211.5 M576.5 208L576.5 211.5 M576 211.5L578.6 211.5 M576.39 210.5L578.21 208.5" fill="none" stroke="#2a2af0" stroke-width="1.1"/>
<path d="M579.6 207.5L582.2 207.5 M581.42 206.5L580.38 211.5 M580.1 208L580.1 211.5 M579.6 211.5L582.2 211.5 M579.99 210.5L581.81 208.5" fill="none" stroke="#2a2af0" stroke-width="1.1"/>
</g>
<line x1="575" y1="212.5" x2="583.5" y2="212.5" stroke="#2015a8" stroke-width="1"/>
<line x1="575" y1="212.5" x2="488" y2="237.5" stroke="#2015a8" stroke-width="1.15"/>
<line x1="575" y1="315.5" x2="583.5" y2="315.5" stroke="#2015a8" stroke-width="1"/>
<g filter="url(#soft)">
<path d="M576 310L578.6 310 M577.82 309L577.3 314 M576.5 310.5L576.5 314 M578.1 310L578.1 314 M576.39 313L578.21 311" fill="none" stroke="#2a2af0" stroke-width="1.1"/>
<path d="M579.6 310L582.2 310 M580.9 309L580.38 314 M579.6 311.75L582.2 311.75 M581.7 310L581.7 314 M579.99 313L581.81 311" fill="none" stroke="#2a2af0" stroke-width="1.1"/>
</g>
<line x1="575" y1="324.5" x2="583.5" y2="324.5" stroke="#2015a8" stroke-width="1"/>
<g filter="url(#soft)">
<path d="M576 318.5L578.6 318.5 M577.3 317.5L576.78 322.5 M576 320.25L578.6 320.25 M576 322.5L578.6 322.5 M576.39 321.5L578.21 319.5" fill="none" stroke="#2a2af0" stroke-width="1.1"/>
<path d="M579.6 318.5L582.2 318.5 M581.42 317.5L581.42 322.5 M580.1 319L580.1 322.5 M581.7 318.5L581.7 322.5 M579.99 321.5L581.81 319.5" fill="none" stroke="#2a2af0" stroke-width="1.1"/>
</g>
<line x1="575" y1="334.5" x2="583.5" y2="334.5" stroke="#2015a8" stroke-width="1"/>
<g filter="url(#soft)">
<path d="M576 328.5L578.6 328.5 M577.3 327.5L577.82 332.5 M576.5 329L576.5 332.5 M576 332.5L578.6 332.5 M576.39 331.5L578.21 329.5" fill="none" stroke="#2a2af0" stroke-width="1.1"/>
<path d="M579.6 328.5L582.2 328.5 M581.42 327.5L580.9 332.5 M580.1 329L580.1 332.5 M579.6 332.5L582.2 332.5 M579.99 331.5L581.81 329.5" fill="none" stroke="#2a2af0" stroke-width="1.1"/>
</g>
<line x1="575" y1="343.5" x2="583.5" y2="343.5" stroke="#2015a8" stroke-width="1"/>
<g filter="url(#soft)">
<path d="M576 337.5L578.6 337.5 M576.78 336.5L576.78 341.5 M576 339.25L578.6 339.25 M576 341.5L578.6 341.5 M576.39 340.5L578.21 338.5" fill="none" stroke="#2a2af0" stroke-width="1.1"/>
<path d="M579.6 337.5L582.2 337.5 M580.9 336.5L581.42 341.5 M580.1 338L580.1 341.5 M579.6 341.5L582.2 341.5 M579.99 340.5L581.81 338.5" fill="none" stroke="#2a2af0" stroke-width="1.1"/>
</g>
<line x1="575" y1="353.5" x2="583.5" y2="353.5" stroke="#2015a8" stroke-width="1"/>
<g filter="url(#soft)">
<path d="M576 347.5L578.6 347.5 M576.78 346.5L577.82 351.5 M576.5 348L576.5 351.5 M578.1 347.5L578.1 351.5 M576.39 350.5L578.21 348.5" fill="none" stroke="#2a2af0" stroke-width="1.1"/>
<path d="M579.6 347.5L582.2 347.5 M581.42 346.5L581.42 351.5 M580.1 348L580.1 351.5 M579.6 351.5L582.2 351.5 M579.99 350.5L581.81 348.5" fill="none" stroke="#2a2af0" stroke-width="1.1"/>
</g>
<line x1="575.5" y1="315.5" x2="575.5" y2="353" stroke="#2015a8" stroke-width="1"/>
<line x1="575" y1="315.5" x2="465" y2="270" stroke="#2015a8" stroke-width="1.15"/>
<g filter="url(#soft)">
<path d="M576 371L578.6 371 M577.3 370L577.82 375 M576 372.75L578.6 372.75 M576 375L578.6 375 M576.39 374L578.21 372" fill="none" stroke="#2a2af0" stroke-width="1.1"/>
<path d="M579.6 371L582.2 371 M581.42 370L580.9 375 M579.6 372.75L582.2 372.75 M579.6 375L582.2 375 M579.99 374L581.81 372" fill="none" stroke="#2a2af0" stroke-width="1.1"/>
</g>
<line x1="575" y1="376.5" x2="583.5" y2="376.5" stroke="#2015a8" stroke-width="1"/>
<line x1="575" y1="376.5" x2="487.5" y2="316.5" stroke="#2015a8" stroke-width="1.15"/>
<g filter="url(#soft)">
<path d="M576 406L578.6 406 M577.3 405L577.3 410 M576.5 406.5L576.5 410 M578.1 406L578.1 410 M576.39 409L578.21 407" fill="none" stroke="#2a2af0" stroke-width="1.1"/>
<path d="M579.6 406L582.2 406 M581.42 405L580.38 410 M579.6 407.75L582.2 407.75 M581.7 406L581.7 410 M579.99 409L581.81 407" fill="none" stroke="#2a2af0" stroke-width="1.1"/>
</g>
<line x1="575" y1="411.5" x2="583.5" y2="411.5" stroke="#2015a8" stroke-width="1"/>
<line x1="575" y1="411.5" x2="430.5" y2="349.5" stroke="#2015a8" stroke-width="1.15"/>
<g clip-path="url(#wclip)">
<circle cx="802.5" cy="314.5" r="147.65" fill="none" stroke="#ffffff" stroke-width="2"/>
<path d="M923.77 311.8 Q928.27 311.8 928.09 307.3 A125.8 125.8 0 0 0 871.53 209.33 Q867.72 206.93 865.47 210.83 L843.16 249.47 Q840.91 253.37 844.65 255.88 A72.2 72.2 0 0 1 874.34 307.31 Q874.65 311.8 879.15 311.8 Z" fill="none" stroke="#ffffff" stroke-width="1.1"/>
<path d="M939.97 311.8 Q944.47 311.8 944.32 307.3 A142 142 0 0 0 879.64 195.28 Q875.83 192.9 873.58 196.79" fill="none" stroke="#ffffff" stroke-width="1.1"/>
<path d="M860.8 208.13 Q863.05 204.23 859.06 202.13 A125.8 125.8 0 0 0 745.94 202.13 Q741.95 204.23 744.2 208.13 L766.51 246.77 Q768.76 250.67 772.8 248.69 A72.2 72.2 0 0 1 832.2 248.69 Q836.24 250.67 838.49 246.77 Z" fill="none" stroke="#ffffff" stroke-width="1.1"/>
<path d="M868.9 194.09 Q871.15 190.2 867.18 188.08 A142 142 0 0 0 737.82 188.08 Q733.85 190.2 736.1 194.09" fill="none" stroke="#ffffff" stroke-width="1.1"/>
<path d="M739.53 210.83 Q737.28 206.93 733.47 209.33 A125.8 125.8 0 0 0 676.91 307.3 Q676.73 311.8 681.23 311.8 L725.85 311.8 Q730.35 311.8 730.66 307.31 A72.2 72.2 0 0 1 760.35 255.88 Q764.09 253.37 761.84 249.47 Z" fill="none" stroke="#ffffff" stroke-width="1.1"/>
<path d="M731.42 196.79 Q729.17 192.9 725.36 195.28 A142 142 0 0 0 660.68 307.3 Q660.53 311.8 665.03 311.8" fill="none" stroke="#ffffff" stroke-width="1.1"/>
<path d="M681.23 317.2 Q676.73 317.2 676.91 321.7 A125.8 125.8 0 0 0 733.47 419.67 Q737.28 422.07 739.53 418.17 L761.84 379.53 Q764.09 375.63 760.35 373.12 A72.2 72.2 0 0 1 730.66 321.69 Q730.35 317.2 725.85 317.2 Z" fill="none" stroke="#ffffff" stroke-width="1.1"/>
<path d="M665.03 317.2 Q660.53 317.2 660.68 321.7 A142 142 0 0 0 725.36 433.72 Q729.17 436.1 731.42 432.21" fill="none" stroke="#ffffff" stroke-width="1.1"/>
<path d="M744.2 420.87 Q741.95 424.77 745.94 426.87 A125.8 125.8 0 0 0 859.06 426.87 Q863.05 424.77 860.8 420.87 L838.49 382.23 Q836.24 378.33 832.2 380.31 A72.2 72.2 0 0 1 772.8 380.31 Q768.76 378.33 766.51 382.23 Z" fill="none" stroke="#ffffff" stroke-width="1.1"/>
<path d="M736.1 434.91 Q733.85 438.8 737.82 440.92 A142 142 0 0 0 867.18 440.92 Q871.15 438.8 868.9 434.91" fill="none" stroke="#ffffff" stroke-width="1.1"/>
<path d="M865.47 418.17 Q867.72 422.07 871.53 419.67 A125.8 125.8 0 0 0 928.09 321.7 Q928.27 317.2 923.77 317.2 L879.15 317.2 Q874.65 317.2 874.34 321.69 A72.2 72.2 0 0 1 844.65 373.12 Q840.91 375.63 843.16 379.53 Z" fill="none" stroke="#ffffff" stroke-width="1.1"/>
<path d="M873.58 432.21 Q875.83 436.1 879.64 433.72 A142 142 0 0 0 944.32 321.7 Q944.47 317.2 939.97 317.2" fill="none" stroke="#ffffff" stroke-width="1.1"/>
<line x1="928.27" y1="311.8" x2="940.47" y2="311.8" stroke="#ffffff" stroke-width="1.1"/>
<line x1="928.27" y1="317.2" x2="940.47" y2="317.2" stroke="#ffffff" stroke-width="1.1"/>
<line x1="866.5" y1="314.5" x2="942.5" y2="314.5" stroke="#c02830" stroke-width="1" stroke-dasharray="14,2,2,2"/>
<line x1="863.05" y1="204.23" x2="869.15" y2="193.66" stroke="#ffffff" stroke-width="1.1"/>
<line x1="867.72" y1="206.93" x2="873.83" y2="196.36" stroke="#ffffff" stroke-width="1.1"/>
<line x1="834.5" y1="259.07" x2="872.5" y2="193.26" stroke="#c02830" stroke-width="1.15" stroke-dasharray="14,2,2,2"/>
<line x1="737.28" y1="206.93" x2="731.17" y2="196.36" stroke="#ffffff" stroke-width="1.1"/>
<line x1="741.95" y1="204.23" x2="735.85" y2="193.66" stroke="#ffffff" stroke-width="1.1"/>
<line x1="770.5" y1="259.07" x2="732.5" y2="193.26" stroke="#c02830" stroke-width="1.15" stroke-dasharray="14,2,2,2"/>
<line x1="676.73" y1="317.2" x2="664.53" y2="317.2" stroke="#ffffff" stroke-width="1.1"/>
<line x1="676.73" y1="311.8" x2="664.53" y2="311.8" stroke="#ffffff" stroke-width="1.1"/>
<line x1="738.5" y1="314.5" x2="662.5" y2="314.5" stroke="#c02830" stroke-width="1" stroke-dasharray="14,2,2,2"/>
<line x1="741.95" y1="424.77" x2="735.85" y2="435.34" stroke="#ffffff" stroke-width="1.1"/>
<line x1="737.28" y1="422.07" x2="731.17" y2="432.64" stroke="#ffffff" stroke-width="1.1"/>
<line x1="770.5" y1="369.93" x2="732.5" y2="435.74" stroke="#c02830" stroke-width="1.15" stroke-dasharray="14,2,2,2"/>
<line x1="867.72" y1="422.07" x2="873.83" y2="432.64" stroke="#ffffff" stroke-width="1.1"/>
<line x1="863.05" y1="424.77" x2="869.15" y2="435.34" stroke="#ffffff" stroke-width="1.1"/>
<line x1="834.5" y1="369.93" x2="872.5" y2="435.74" stroke="#c02830" stroke-width="1.15" stroke-dasharray="14,2,2,2"/>
<circle cx="802.5" cy="314.5" r="70.7" fill="none" stroke="#ffffff" stroke-width="1.1"/>
<g clip-path="url(#hclip)">
<circle cx="802.5" cy="314.5" r="57" fill="none" stroke="#ffffff" stroke-width="1.1"/>
</g>
<circle cx="890.83" cy="263.5" r="19" fill="none" stroke="#ffffff" stroke-width="1.1"/>
<line x1="866.59" y1="277.5" x2="922.01" y2="245.5" stroke="#c02830" stroke-width="1.15" stroke-dasharray="14,2,2,2"/>
<circle cx="714.17" cy="263.5" r="19" fill="none" stroke="#ffffff" stroke-width="1.1"/>
<line x1="738.41" y1="277.5" x2="682.99" y2="245.5" stroke="#c02830" stroke-width="1.15" stroke-dasharray="14,2,2,2"/>
<circle cx="714.17" cy="365.5" r="19" fill="none" stroke="#ffffff" stroke-width="1.1"/>
<line x1="738.41" y1="351.5" x2="682.99" y2="383.5" stroke="#c02830" stroke-width="1.15" stroke-dasharray="14,2,2,2"/>
<circle cx="802.5" cy="416.5" r="19" fill="none" stroke="#ffffff" stroke-width="1.1"/>
<line x1="802.5" y1="388.5" x2="802.5" y2="452.5" stroke="#c02830" stroke-width="1" stroke-dasharray="14,2,2,2"/>
<circle cx="890.83" cy="365.5" r="19" fill="none" stroke="#ffffff" stroke-width="1.1"/>
<line x1="866.59" y1="351.5" x2="922.01" y2="383.5" stroke="#c02830" stroke-width="1.15" stroke-dasharray="14,2,2,2"/>
</g>
<g clip-path="url(#rclip)">
<circle cx="802.5" cy="314.5" r="102" fill="none" stroke="#c02830" stroke-width="1" stroke-dasharray="14,2,2,2"/>
</g>
<line x1="613" y1="243.5" x2="900" y2="243.5" stroke="#c02830" stroke-width="1" stroke-dasharray="11,2,2,2"/>
<line x1="607" y1="249.5" x2="1008" y2="249.5" stroke="#c02830" stroke-width="1" stroke-dasharray="11,2,2,2"/>
<line x1="613" y1="243.5" x2="607" y2="249.5" stroke="#c02830" stroke-width="1.15"/>
<line x1="1003.5" y1="243.5" x2="1008" y2="249.5" stroke="#c02830" stroke-width="1.15"/>
<path d="M669.49 235.5 A154.7 154.7 0 0 1 935.51 235.5" fill="none" stroke="#ffffff" stroke-width="1.1"/>
<path d="M673.23 235.5 A151.5 151.5 0 0 1 931.77 235.5" fill="none" stroke="#ffffff" stroke-width="1.1"/>
<line x1="669" y1="235.5" x2="937" y2="235.5" stroke="#ffffff" stroke-width="1"/>
<rect x="668.5" y="237.5" width="37" height="6" fill="#000" stroke="#ffffff" stroke-width="1"/>
<rect x="899.5" y="237.5" width="37" height="6" fill="#000" stroke="#ffffff" stroke-width="1"/>
<line x1="668.5" y1="237.5" x2="936.5" y2="237.5" stroke="#ffffff" stroke-width="1"/>
<rect x="683.5" y="230.5" width="7" height="4" fill="none" stroke="#ffffff" stroke-width="1"/>
<rect x="912.5" y="230.5" width="7" height="4" fill="none" stroke="#ffffff" stroke-width="1"/>
<line x1="686.5" y1="231" x2="686.5" y2="247" stroke="#c02830" stroke-width="1"/>
<line x1="915.5" y1="231" x2="915.5" y2="247" stroke="#c02830" stroke-width="1"/>
<g clip-path="url(#bclip)">
<circle cx="802.5" cy="314.5" r="28" fill="none" stroke="#ffffff" stroke-width="1.1"/>
<circle cx="802.5" cy="314.5" r="33.5" fill="none" stroke="#ffffff" stroke-width="1.1"/>
<circle cx="802.5" cy="314.5" r="36.5" fill="none" stroke="#ffffff" stroke-width="1.1"/>
</g>
<rect x="798" y="347" width="9" height="5" fill="#000"/>
<polyline points="798.5,351.5 798.5,347.5 806.5,347.5 806.5,351.5" fill="none" stroke="#ffffff" stroke-width="1"/>
<polyline points="766,320.5 769,320.5" fill="none" stroke="#ffffff" stroke-width="1"/>
<polyline points="770.5,330.5 773,333" fill="none" stroke="#ffffff" stroke-width="1"/>
<polyline points="839,320.5 836,320.5" fill="none" stroke="#ffffff" stroke-width="1"/>
<polyline points="834.5,330.5 832,333" fill="none" stroke="#ffffff" stroke-width="1"/>
<rect x="763.5" y="268.5" width="75" height="29" fill="#000" stroke="#ffffff" stroke-width="1"/>
<line x1="763.5" y1="289.5" x2="838.5" y2="289.5" stroke="#ffffff" stroke-width="1"/>
<circle cx="777" cy="275.5" r="5.5" fill="none" stroke="#ffffff" stroke-width="1"/>
<circle cx="824.5" cy="275.5" r="5.5" fill="none" stroke="#ffffff" stroke-width="1"/>
<line x1="742" y1="275.5" x2="865" y2="275.5" stroke="#c02830" stroke-width="1" stroke-dasharray="11,2,2,2"/>
<line x1="777.5" y1="246" x2="777.5" y2="297" stroke="#c02830" stroke-width="1" stroke-dasharray="8,2"/>
<line x1="824.5" y1="246" x2="824.5" y2="297" stroke="#c02830" stroke-width="1" stroke-dasharray="8,2"/>
<line x1="613.5" y1="314.5" x2="1003" y2="314.5" stroke="#c02830" stroke-width="1" stroke-dasharray="11,2,2,2"/>
<line x1="802.5" y1="150" x2="802.5" y2="476" stroke="#c02830" stroke-width="1" stroke-dasharray="11,2,2,2"/>
<rect x="800" y="211" width="5" height="96" fill="#000"/>
<line x1="799.5" y1="211.5" x2="799.5" y2="306.5" stroke="#ffffff" stroke-width="1"/>
<line x1="805.5" y1="211.5" x2="805.5" y2="306.5" stroke="#ffffff" stroke-width="1"/>
<path d="M799.7 204.5 L805.3 204.5 L805.3 206.5 L803.7 206.5 L803.7 209.3 L808.2 209.3 L808.2 211.7 L796.8 211.7 L796.8 209.3 L801.3 209.3 L801.3 206.5 L799.7 206.5 Z" fill="#000" stroke="#ffffff" stroke-width="1.1"/>
<rect x="792.5" y="241.5" width="20" height="3" fill="#000" stroke="#ffffff" stroke-width="1"/>
<path d="M796.5 306.5 L808.5 306.5 L808.5 313 Q808.5 319.5 802.5 320 Q796.5 319.5 796.5 313 Z" fill="#000" stroke="#ffffff" stroke-width="1"/>
<line x1="802.5" y1="200" x2="802.5" y2="322" stroke="#c02830" stroke-width="1" stroke-dasharray="11,2,2,2"/>
<line x1="779" y1="258.5" x2="821" y2="258.5" stroke="#2015a8" stroke-width="1"/>
<rect x="808.5" y="250.5" width="6" height="6" fill="none" stroke="#2015a8" stroke-width="1"/>
<line x1="855.5" y1="276.5" x2="855.5" y2="312" stroke="#2015a8" stroke-width="1"/>
<rect x="848.5" y="302.5" width="4" height="5" fill="none" stroke="#2015a8" stroke-width="1"/>
<line x1="936.5" y1="243.5" x2="1003.5" y2="243.5" stroke="#2015a8" stroke-width="1"/>
<line x1="950" y1="314.5" x2="1003.5" y2="314.5" stroke="#2015a8" stroke-width="1"/>
<line x1="994.5" y1="243.5" x2="994.5" y2="314.5" stroke="#2015a8" stroke-width="1"/>
<rect x="987.5" y="276.5" width="6" height="7" fill="none" stroke="#2015a8" stroke-width="1"/>
<path d="M351 626.3L358.2 626.3 M353.16 624.5L353.16 633.5 M351 629.45L358.2 629.45 M351 633.5L358.2 633.5 M352.08 631.7L357.12 628.1" fill="none" stroke="#ffffff" stroke-width="1.1"/>
<path d="M360 626.3L367.2 626.3 M362.16 624.5L365.04 633.5 M360.5 627.2L360.5 633.5 M360 633.5L367.2 633.5 M361.08 631.7L366.12 628.1" fill="none" stroke="#ffffff" stroke-width="1.1"/>
<path d="M369 626.3L376.2 626.3 M372.6 624.5L372.6 633.5 M369 629.45L376.2 629.45 M375.7 626.3L375.7 633.5 M370.08 631.7L375.12 628.1" fill="none" stroke="#ffffff" stroke-width="1.1"/>
<path d="M378 626.3L385.2 626.3 M380.16 624.5L380.16 633.5 M378 629.45L385.2 629.45 M378 633.5L385.2 633.5 M379.08 631.7L384.12 628.1" fill="none" stroke="#ffffff" stroke-width="1.1"/>
<g filter="url(#soft)">
<rect x="342" y="643.5" width="2" height="5" fill="#2626d8"/>
<rect x="345" y="647.5" width="1" height="1" fill="#2626d8"/>
<path d="M348 643.7L353.6 643.7 M350.8 642.5L351.92 648.5 M348 645.8L353.6 645.8 M348 648.5L353.6 648.5 M348.84 647.3L352.76 644.9" fill="none" stroke="#2626d8" stroke-width="1.2"/>
<path d="M355.1 643.7L360.7 643.7 M356.78 642.5L357.9 648.5 M355.6 644.3L355.6 648.5 M355.1 648.5L360.7 648.5 M355.94 647.3L359.86 644.9" fill="none" stroke="#2626d8" stroke-width="1.2"/>
<path d="M362.2 643.7L367.8 643.7 M366.12 642.5L365 648.5 M362.7 644.3L362.7 648.5 M362.2 648.5L367.8 648.5 M363.04 647.3L366.96 644.9" fill="none" stroke="#2626d8" stroke-width="1.2"/>
<path d="M369.3 643.7L374.9 643.7 M373.22 642.5L372.1 648.5 M369.8 644.3L369.8 648.5 M369.3 648.5L374.9 648.5 M370.14 647.3L374.06 644.9" fill="none" stroke="#2626d8" stroke-width="1.2"/>
<path d="M376.4 643.7L382 643.7 M378.08 642.5L378.08 648.5 M376.4 645.8L382 645.8 M381.5 643.7L381.5 648.5 M377.24 647.3L381.16 644.9" fill="none" stroke="#2626d8" stroke-width="1.2"/>
<path d="M383.5 643.7L389.1 643.7 M385.18 642.5L385.18 648.5 M383.5 645.8L389.1 645.8 M388.6 643.7L388.6 648.5 M384.34 647.3L388.26 644.9" fill="none" stroke="#2626d8" stroke-width="1.2"/>
<path d="M390.6 643.7L396.2 643.7 M392.28 642.5L393.4 648.5 M390.6 645.8L396.2 645.8 M395.7 643.7L395.7 648.5 M391.44 647.3L395.36 644.9" fill="none" stroke="#2626d8" stroke-width="1.2"/>
<path d="M397.7 643.7L403.3 643.7 M400.5 642.5L400.5 648.5 M397.7 645.8L403.3 645.8 M402.8 643.7L402.8 648.5 M398.54 647.3L402.46 644.9" fill="none" stroke="#2626d8" stroke-width="1.2"/>
<path d="M404.8 643.7L410.4 643.7 M406.48 642.5L407.6 648.5 M405.3 644.3L405.3 648.5 M409.9 643.7L409.9 648.5 M405.64 647.3L409.56 644.9" fill="none" stroke="#2626d8" stroke-width="1.2"/>
<path d="M411.9 643.7L417.5 643.7 M415.82 642.5L415.82 648.5 M412.4 644.3L412.4 648.5 M411.9 648.5L417.5 648.5 M412.74 647.3L416.66 644.9" fill="none" stroke="#2626d8" stroke-width="1.2"/>
<path d="M419 643.7L424.6 643.7 M420.68 642.5L422.92 648.5 M419.5 644.3L419.5 648.5 M419 648.5L424.6 648.5 M419.84 647.3L423.76 644.9" fill="none" stroke="#2626d8" stroke-width="1.2"/>
<path d="M426.1 643.7L431.7 643.7 M428.9 642.5L430.02 648.5 M426.6 644.3L426.6 648.5 M431.2 643.7L431.2 648.5 M426.94 647.3L430.86 644.9" fill="none" stroke="#2626d8" stroke-width="1.2"/>
<path d="M433.2 643.7L438.8 643.7 M436 642.5L436 648.5 M433.2 645.8L438.8 645.8 M433.2 648.5L438.8 648.5 M434.04 647.3L437.96 644.9" fill="none" stroke="#2626d8" stroke-width="1.2"/>
<path d="M440.3 643.7L445.9 643.7 M441.98 642.5L443.1 648.5 M440.3 645.8L445.9 645.8 M440.3 648.5L445.9 648.5 M441.14 647.3L445.06 644.9" fill="none" stroke="#2626d8" stroke-width="1.2"/>
<path d="M447.4 643.7L453 643.7 M449.08 642.5L449.08 648.5 M447.4 645.8L453 645.8 M447.4 648.5L453 648.5 M448.24 647.3L452.16 644.9" fill="none" stroke="#2626d8" stroke-width="1.2"/>
<path d="M454.5 643.7L460.1 643.7 M456.18 642.5L457.3 648.5 M455 644.3L455 648.5 M459.6 643.7L459.6 648.5 M455.34 647.3L459.26 644.9" fill="none" stroke="#2626d8" stroke-width="1.2"/>
<rect x="342" y="654.5" width="2" height="5" fill="#2626d8"/>
<rect x="345" y="658.5" width="1" height="1" fill="#2626d8"/>
<path d="M348 654.7L353.6 654.7 M349.68 653.5L350.8 659.5 M348 656.8L353.6 656.8 M353.1 654.7L353.1 659.5 M348.84 658.3L352.76 655.9" fill="none" stroke="#2626d8" stroke-width="1.2"/>
<path d="M355.1 654.7L360.7 654.7 M356.78 653.5L356.78 659.5 M355.6 655.3L355.6 659.5 M360.2 654.7L360.2 659.5 M355.94 658.3L359.86 655.9" fill="none" stroke="#2626d8" stroke-width="1.2"/>
<path d="M362.2 654.7L367.8 654.7 M366.12 653.5L363.88 659.5 M362.2 656.8L367.8 656.8 M367.3 654.7L367.3 659.5 M363.04 658.3L366.96 655.9" fill="none" stroke="#2626d8" stroke-width="1.2"/>
<path d="M369.3 654.7L374.9 654.7 M373.22 653.5L370.98 659.5 M369.8 655.3L369.8 659.5 M369.3 659.5L374.9 659.5 M370.14 658.3L374.06 655.9" fill="none" stroke="#2626d8" stroke-width="1.2"/>
<path d="M376.4 654.7L382 654.7 M378.08 653.5L380.32 659.5 M376.9 655.3L376.9 659.5 M381.5 654.7L381.5 659.5 M377.24 658.3L381.16 655.9" fill="none" stroke="#2626d8" stroke-width="1.2"/>
<path d="M383.5 654.7L389.1 654.7 M385.18 653.5L387.42 659.5 M383.5 656.8L389.1 656.8 M383.5 659.5L389.1 659.5 M384.34 658.3L388.26 655.9" fill="none" stroke="#2626d8" stroke-width="1.2"/>
<path d="M390.6 654.7L396.2 654.7 M393.4 653.5L394.52 659.5 M391.1 655.3L391.1 659.5 M390.6 659.5L396.2 659.5 M391.44 658.3L395.36 655.9" fill="none" stroke="#2626d8" stroke-width="1.2"/>
<path d="M397.7 654.7L403.3 654.7 M400.5 653.5L399.38 659.5 M398.2 655.3L398.2 659.5 M397.7 659.5L403.3 659.5 M398.54 658.3L402.46 655.9" fill="none" stroke="#2626d8" stroke-width="1.2"/>
<path d="M404.8 654.7L410.4 654.7 M407.6 653.5L407.6 659.5 M405.3 655.3L405.3 659.5 M409.9 654.7L409.9 659.5 M405.64 658.3L409.56 655.9" fill="none" stroke="#2626d8" stroke-width="1.2"/>
<path d="M411.9 654.7L417.5 654.7 M414.7 653.5L414.7 659.5 M411.9 656.8L417.5 656.8 M411.9 659.5L417.5 659.5 M412.74 658.3L416.66 655.9" fill="none" stroke="#2626d8" stroke-width="1.2"/>
<path d="M419 654.7L424.6 654.7 M420.68 653.5L420.68 659.5 M419.5 655.3L419.5 659.5 M424.1 654.7L424.1 659.5 M419.84 658.3L423.76 655.9" fill="none" stroke="#2626d8" stroke-width="1.2"/>
<path d="M426.1 654.7L431.7 654.7 M430.02 653.5L428.9 659.5 M426.6 655.3L426.6 659.5 M426.1 659.5L431.7 659.5 M426.94 658.3L430.86 655.9" fill="none" stroke="#2626d8" stroke-width="1.2"/>
<path d="M433.2 654.7L438.8 654.7 M437.12 653.5L434.88 659.5 M433.2 656.8L438.8 656.8 M433.2 659.5L438.8 659.5 M434.04 658.3L437.96 655.9" fill="none" stroke="#2626d8" stroke-width="1.2"/>
<path d="M440.3 654.7L445.9 654.7 M441.98 653.5L444.22 659.5 M440.8 655.3L440.8 659.5 M445.4 654.7L445.4 659.5 M441.14 658.3L445.06 655.9" fill="none" stroke="#2626d8" stroke-width="1.2"/>
<path d="M447.4 654.7L453 654.7 M449.08 653.5L451.32 659.5 M447.9 655.3L447.9 659.5 M447.4 659.5L453 659.5 M448.24 658.3L452.16 655.9" fill="none" stroke="#2626d8" stroke-width="1.2"/>
<path d="M454.5 654.7L460.1 654.7 M458.42 653.5L457.3 659.5 M455 655.3L455 659.5 M459.6 654.7L459.6 659.5 M455.34 658.3L459.26 655.9" fill="none" stroke="#2626d8" stroke-width="1.2"/>
<path d="M461.6 654.7L467.2 654.7 M465.52 653.5L464.4 659.5 M462.1 655.3L462.1 659.5 M466.7 654.7L466.7 659.5 M462.44 658.3L466.36 655.9" fill="none" stroke="#2626d8" stroke-width="1.2"/>
<rect x="342" y="664.5" width="2" height="5" fill="#2626d8"/>
<rect x="345" y="668.5" width="1" height="1" fill="#2626d8"/>
<path d="M348 664.7L353.6 664.7 M349.68 663.5L350.8 669.5 M348.5 665.3L348.5 669.5 M348 669.5L353.6 669.5 M348.84 668.3L352.76 665.9" fill="none" stroke="#2626d8" stroke-width="1.2"/>
<path d="M355.1 664.7L360.7 664.7 M359.02 663.5L359.02 669.5 M355.1 666.8L360.7 666.8 M360.2 664.7L360.2 669.5 M355.94 668.3L359.86 665.9" fill="none" stroke="#2626d8" stroke-width="1.2"/>
<path d="M362.2 664.7L367.8 664.7 M366.12 663.5L363.88 669.5 M362.7 665.3L362.7 669.5 M362.2 669.5L367.8 669.5 M363.04 668.3L366.96 665.9" fill="none" stroke="#2626d8" stroke-width="1.2"/>
<path d="M369.3 664.7L374.9 664.7 M370.98 663.5L372.1 669.5 M369.3 666.8L374.9 666.8 M374.4 664.7L374.4 669.5 M370.14 668.3L374.06 665.9" fill="none" stroke="#2626d8" stroke-width="1.2"/>
<path d="M376.4 664.7L382 664.7 M378.08 663.5L380.32 669.5 M376.4 666.8L382 666.8 M381.5 664.7L381.5 669.5 M377.24 668.3L381.16 665.9" fill="none" stroke="#2626d8" stroke-width="1.2"/>
<path d="M383.5 664.7L389.1 664.7 M386.3 663.5L387.42 669.5 M383.5 666.8L389.1 666.8 M383.5 669.5L389.1 669.5 M384.34 668.3L388.26 665.9" fill="none" stroke="#2626d8" stroke-width="1.2"/>
<path d="M390.6 664.7L396.2 664.7 M392.28 663.5L393.4 669.5 M391.1 665.3L391.1 669.5 M395.7 664.7L395.7 669.5 M391.44 668.3L395.36 665.9" fill="none" stroke="#2626d8" stroke-width="1.2"/>
<path d="M397.7 664.7L403.3 664.7 M400.5 663.5L399.38 669.5 M397.7 666.8L403.3 666.8 M397.7 669.5L403.3 669.5 M398.54 668.3L402.46 665.9" fill="none" stroke="#2626d8" stroke-width="1.2"/>
</g>
<line x1="864.5" y1="495.5" x2="1098" y2="495.5" stroke="#3ee83e" stroke-width="1"/>
<line x1="864.5" y1="504.5" x2="1098" y2="504.5" stroke="#3ee83e" stroke-width="1"/>
<line x1="864.5" y1="513.5" x2="1098" y2="513.5" stroke="#3ee83e" stroke-width="1"/>
<line x1="864.5" y1="522.5" x2="1098" y2="522.5" stroke="#3ee83e" stroke-width="1"/>
<line x1="864.5" y1="532.5" x2="1098" y2="532.5" stroke="#3ee83e" stroke-width="1"/>
<line x1="864.5" y1="541.5" x2="1098" y2="541.5" stroke="#3ee83e" stroke-width="1"/>
<line x1="864.5" y1="550.5" x2="1098" y2="550.5" stroke="#3ee83e" stroke-width="1"/>
<line x1="864.5" y1="559.5" x2="1098" y2="559.5" stroke="#3ee83e" stroke-width="1"/>
<line x1="864.5" y1="568.5" x2="1098" y2="568.5" stroke="#3ee83e" stroke-width="1"/>
<line x1="864.5" y1="577.5" x2="1098" y2="577.5" stroke="#3ee83e" stroke-width="1"/>
<line x1="864.5" y1="586.5" x2="1098" y2="586.5" stroke="#3ee83e" stroke-width="1"/>
<line x1="864.5" y1="596.5" x2="1098" y2="596.5" stroke="#3ee83e" stroke-width="1"/>
<line x1="864.5" y1="605.5" x2="1098" y2="605.5" stroke="#3ee83e" stroke-width="1"/>
<line x1="864.5" y1="614.5" x2="1098" y2="614.5" stroke="#3ee83e" stroke-width="1"/>
<line x1="864.5" y1="623.5" x2="1098" y2="623.5" stroke="#3ee83e" stroke-width="1"/>
<line x1="864.5" y1="632.5" x2="1098" y2="632.5" stroke="#3ee83e" stroke-width="1"/>
<line x1="864.5" y1="641.5" x2="1098" y2="641.5" stroke="#3ee83e" stroke-width="1"/>
<line x1="864.5" y1="650.5" x2="1098" y2="650.5" stroke="#3ee83e" stroke-width="1"/>
<line x1="864.5" y1="660.5" x2="1098" y2="660.5" stroke="#3ee83e" stroke-width="1"/>
<line x1="864.5" y1="669.5" x2="1098" y2="669.5" stroke="#3ee83e" stroke-width="1"/>
<line x1="864.5" y1="495.5" x2="864.5" y2="694.5" stroke="#3ee83e" stroke-width="1"/>
<line x1="879.5" y1="495.5" x2="879.5" y2="694.5" stroke="#3ee83e" stroke-width="1"/>
<line x1="922.5" y1="495.5" x2="922.5" y2="694.5" stroke="#3ee83e" stroke-width="1"/>
<line x1="981.5" y1="495.5" x2="981.5" y2="694.5" stroke="#3ee83e" stroke-width="1"/>
<line x1="1011.5" y1="495.5" x2="1011.5" y2="694.5" stroke="#3ee83e" stroke-width="1"/>
<line x1="1027.5" y1="495.5" x2="1027.5" y2="694.5" stroke="#3ee83e" stroke-width="1"/>
<line x1="1042.5" y1="495.5" x2="1042.5" y2="694.5" stroke="#3ee83e" stroke-width="1"/>
<line x1="1058.5" y1="495.5" x2="1058.5" y2="694.5" stroke="#3ee83e" stroke-width="1"/>
<rect x="869.5" y="497.5" width="5" height="5" fill="none" stroke="#3ee83e" stroke-width="1"/>
<rect x="883.5" y="497.5" width="16" height="5" fill="none" stroke="#3ee83e" stroke-width="1"/>
<rect x="927.5" y="497.5" width="22" height="5" fill="none" stroke="#3ee83e" stroke-width="1"/>
<rect x="937" y="498.3" width="2" height="3.54" fill="#2a2af0"/>
<rect x="991.5" y="497.5" width="11" height="5" fill="none" stroke="#3ee83e" stroke-width="1"/>
<rect x="1017.5" y="497.5" width="4" height="5" fill="none" stroke="#3ee83e" stroke-width="1"/>
<rect x="1029.5" y="497.5" width="9" height="5" fill="none" stroke="#3ee83e" stroke-width="1"/>
<rect x="1044.5" y="497.5" width="10" height="5" fill="none" stroke="#3ee83e" stroke-width="1"/>
<rect x="869.5" y="506.5" width="5" height="5" fill="none" stroke="#3ee83e" stroke-width="1"/>
<rect x="883.5" y="506.5" width="16" height="5" fill="none" stroke="#3ee83e" stroke-width="1"/>
<path d="M926.5 508.08L930 508.08 M928.25 507.25L928.95 511.44 M927 508.5L927 511.44 M926.5 511.44L930 511.44 M927.02 510.61L929.48 508.93" fill="none" stroke="#3ee83e" stroke-width="0.9"/>
<rect x="990.5" y="506.5" width="13" height="5" fill="none" stroke="#3ee83e" stroke-width="1"/>
<rect x="1017.5" y="506.5" width="4" height="5" fill="none" stroke="#3ee83e" stroke-width="1"/>
<rect x="1029.5" y="506.5" width="11" height="5" fill="none" stroke="#3ee83e" stroke-width="1"/>
<rect x="1044.5" y="506.5" width="12" height="5" fill="none" stroke="#3ee83e" stroke-width="1"/>
<rect x="869.5" y="516.5" width="5" height="4" fill="none" stroke="#3ee83e" stroke-width="1"/>
<rect x="883.5" y="516.5" width="21" height="4" fill="none" stroke="#3ee83e" stroke-width="1"/>
<rect x="926.5" y="516.5" width="21" height="4" fill="none" stroke="#3ee83e" stroke-width="1"/>
<rect x="993.5" y="516.5" width="7" height="4" fill="none" stroke="#3ee83e" stroke-width="1"/>
<rect x="1017.5" y="516.5" width="4" height="4" fill="none" stroke="#3ee83e" stroke-width="1"/>
<rect x="1029.5" y="516.5" width="11" height="4" fill="none" stroke="#3ee83e" stroke-width="1"/>
<rect x="1044.5" y="516.5" width="12" height="4" fill="none" stroke="#3ee83e" stroke-width="1"/>
<rect x="869.5" y="525.5" width="5" height="4" fill="none" stroke="#3ee83e" stroke-width="1"/>
<rect x="883.5" y="525.5" width="21" height="4" fill="none" stroke="#3ee83e" stroke-width="1"/>
<rect x="926.5" y="525.5" width="27" height="4" fill="none" stroke="#3ee83e" stroke-width="1"/>
<rect x="991.5" y="525.5" width="11" height="4" fill="none" stroke="#3ee83e" stroke-width="1"/>
<rect x="1017.5" y="525.5" width="4" height="4" fill="none" stroke="#3ee83e" stroke-width="1"/>
<rect x="1029.5" y="525.5" width="11" height="4" fill="none" stroke="#3ee83e" stroke-width="1"/>
<rect x="1044.5" y="525.5" width="12" height="4" fill="none" stroke="#3ee83e" stroke-width="1"/>
<rect x="869.5" y="534.5" width="5" height="4" fill="none" stroke="#3ee83e" stroke-width="1"/>
<rect x="883.5" y="534.5" width="16" height="4" fill="none" stroke="#3ee83e" stroke-width="1"/>
<rect x="926.5" y="534.5" width="10" height="4" fill="none" stroke="#3ee83e" stroke-width="1"/>
<rect x="990.5" y="534.5" width="13" height="4" fill="none" stroke="#3ee83e" stroke-width="1"/>
<rect x="1017.5" y="534.5" width="4" height="4" fill="none" stroke="#3ee83e" stroke-width="1"/>
<rect x="1029.5" y="534.5" width="11" height="4" fill="none" stroke="#3ee83e" stroke-width="1"/>
<rect x="1044.5" y="534.5" width="12" height="4" fill="none" stroke="#3ee83e" stroke-width="1"/>
<rect x="869.5" y="543.5" width="5" height="5" fill="none" stroke="#3ee83e" stroke-width="1"/>
<rect x="883.5" y="543.5" width="16" height="5" fill="none" stroke="#3ee83e" stroke-width="1"/>
<rect x="926.5" y="543.5" width="10" height="5" fill="none" stroke="#3ee83e" stroke-width="1"/>
<rect x="987.5" y="543.5" width="19" height="5" fill="none" stroke="#3ee83e" stroke-width="1"/>
<rect x="1017.5" y="543.5" width="4" height="5" fill="none" stroke="#3ee83e" stroke-width="1"/>
<rect x="1029.5" y="543.5" width="7" height="5" fill="none" stroke="#3ee83e" stroke-width="1"/>
<rect x="1044.5" y="543.5" width="8" height="5" fill="none" stroke="#3ee83e" stroke-width="1"/>
<rect x="869.5" y="552.5" width="5" height="5" fill="none" stroke="#3ee83e" stroke-width="1"/>
<rect x="883.5" y="552.5" width="16" height="5" fill="none" stroke="#3ee83e" stroke-width="1"/>
<rect x="926.5" y="552.5" width="18" height="5" fill="none" stroke="#3ee83e" stroke-width="1"/>
<rect x="992.5" y="552.5" width="9" height="5" fill="none" stroke="#3ee83e" stroke-width="1"/>
<rect x="1017.5" y="552.5" width="4" height="5" fill="none" stroke="#3ee83e" stroke-width="1"/>
<rect x="1029.5" y="552.5" width="12" height="5" fill="none" stroke="#3ee83e" stroke-width="1"/>
<rect x="1044.5" y="552.5" width="12" height="5" fill="none" stroke="#3ee83e" stroke-width="1"/>
<rect x="869.5" y="561.5" width="5" height="5" fill="none" stroke="#3ee83e" stroke-width="1"/>
<rect x="883.5" y="561.5" width="16" height="5" fill="none" stroke="#3ee83e" stroke-width="1"/>
<rect x="926.5" y="561.5" width="10" height="5" fill="none" stroke="#3ee83e" stroke-width="1"/>
<rect x="987.5" y="561.5" width="19" height="5" fill="none" stroke="#3ee83e" stroke-width="1"/>
<rect x="1017.5" y="561.5" width="4" height="5" fill="none" stroke="#3ee83e" stroke-width="1"/>
<rect x="1029.5" y="561.5" width="9" height="5" fill="none" stroke="#3ee83e" stroke-width="1"/>
<rect x="1044.5" y="561.5" width="10" height="5" fill="none" stroke="#3ee83e" stroke-width="1"/>
<rect x="869.5" y="570.5" width="5" height="5" fill="none" stroke="#3ee83e" stroke-width="1"/>
<rect x="883.5" y="570.5" width="14" height="5" fill="none" stroke="#3ee83e" stroke-width="1"/>
<rect x="926.5" y="570.5" width="14" height="5" fill="none" stroke="#3ee83e" stroke-width="1"/>
<rect x="992.5" y="570.5" width="9" height="5" fill="none" stroke="#3ee83e" stroke-width="1"/>
<rect x="1017.5" y="570.5" width="4" height="5" fill="none" stroke="#3ee83e" stroke-width="1"/>
<rect x="1029.5" y="570.5" width="11" height="5" fill="none" stroke="#3ee83e" stroke-width="1"/>
<rect x="1044.5" y="570.5" width="12" height="5" fill="none" stroke="#3ee83e" stroke-width="1"/>
<rect x="869.5" y="580.5" width="5" height="4" fill="none" stroke="#3ee83e" stroke-width="1"/>
<rect x="883.5" y="580.5" width="16" height="4" fill="none" stroke="#3ee83e" stroke-width="1"/>
<rect x="926.5" y="580.5" width="18" height="4" fill="none" stroke="#3ee83e" stroke-width="1"/>
<rect x="992.5" y="580.5" width="9" height="4" fill="none" stroke="#3ee83e" stroke-width="1"/>
<rect x="1017.5" y="580.5" width="4" height="4" fill="none" stroke="#3ee83e" stroke-width="1"/>
<rect x="1029.5" y="580.5" width="12" height="4" fill="none" stroke="#3ee83e" stroke-width="1"/>
<rect x="1044.5" y="580.5" width="14" height="4" fill="none" stroke="#3ee83e" stroke-width="1"/>
<rect x="869.5" y="589.5" width="5" height="4" fill="none" stroke="#3ee83e" stroke-width="1"/>
<rect x="883.5" y="589.5" width="21" height="4" fill="none" stroke="#3ee83e" stroke-width="1"/>
<rect x="926.5" y="589.5" width="25" height="4" fill="none" stroke="#3ee83e" stroke-width="1"/>
<rect x="991.5" y="589.5" width="11" height="4" fill="none" stroke="#3ee83e" stroke-width="1"/>
<rect x="1017.5" y="589.5" width="4" height="4" fill="none" stroke="#3ee83e" stroke-width="1"/>
<rect x="1029.5" y="589.5" width="11" height="4" fill="none" stroke="#3ee83e" stroke-width="1"/>
<rect x="1044.5" y="589.5" width="12" height="4" fill="none" stroke="#3ee83e" stroke-width="1"/>
<rect x="869.5" y="598.5" width="5" height="4" fill="none" stroke="#3ee83e" stroke-width="1"/>
<rect x="883.5" y="598.5" width="21" height="4" fill="none" stroke="#3ee83e" stroke-width="1"/>
<rect x="926.5" y="598.5" width="25" height="4" fill="none" stroke="#3ee83e" stroke-width="1"/>
<rect x="992.5" y="598.5" width="9" height="4" fill="none" stroke="#3ee83e" stroke-width="1"/>
<rect x="1017.5" y="598.5" width="4" height="4" fill="none" stroke="#3ee83e" stroke-width="1"/>
<rect x="1029.5" y="598.5" width="11" height="4" fill="none" stroke="#3ee83e" stroke-width="1"/>
<rect x="1044.5" y="598.5" width="12" height="4" fill="none" stroke="#3ee83e" stroke-width="1"/>
<rect x="869.5" y="607.5" width="5" height="5" fill="none" stroke="#3ee83e" stroke-width="1"/>
<rect x="883.5" y="607.5" width="16" height="5" fill="none" stroke="#3ee83e" stroke-width="1"/>
<rect x="926.5" y="607.5" width="10" height="5" fill="none" stroke="#3ee83e" stroke-width="1"/>
<rect x="987.5" y="607.5" width="19" height="5" fill="none" stroke="#3ee83e" stroke-width="1"/>
<rect x="1017.5" y="607.5" width="4" height="5" fill="none" stroke="#3ee83e" stroke-width="1"/>
<rect x="1029.5" y="607.5" width="11" height="5" fill="none" stroke="#3ee83e" stroke-width="1"/>
<rect x="1044.5" y="607.5" width="12" height="5" fill="none" stroke="#3ee83e" stroke-width="1"/>
<rect x="869.5" y="616.5" width="5" height="5" fill="none" stroke="#3ee83e" stroke-width="1"/>
<rect x="883.5" y="616.5" width="16" height="5" fill="none" stroke="#3ee83e" stroke-width="1"/>
<rect x="927.5" y="616.5" width="22" height="5" fill="none" stroke="#3ee83e" stroke-width="1"/>
<rect x="937" y="617.18" width="2" height="3.55" fill="#2a2af0"/>
<rect x="991.5" y="616.5" width="11" height="5" fill="none" stroke="#3ee83e" stroke-width="1"/>
<rect x="1017.5" y="616.5" width="4" height="5" fill="none" stroke="#3ee83e" stroke-width="1"/>
<rect x="1029.5" y="616.5" width="2" height="5" fill="none" stroke="#3ee83e" stroke-width="1"/>
<rect x="1044.5" y="616.5" width="3" height="5" fill="none" stroke="#3ee83e" stroke-width="1"/>
<rect x="869.5" y="625.5" width="5" height="5" fill="none" stroke="#3ee83e" stroke-width="1"/>
<rect x="883.5" y="625.5" width="16" height="5" fill="none" stroke="#3ee83e" stroke-width="1"/>
<path d="M926.5 626.97L930 626.97 M928.25 626.13L927.55 630.33 M927 627.39L927 630.33 M926.5 630.33L930 630.33 M927.02 629.49L929.48 627.81" fill="none" stroke="#3ee83e" stroke-width="0.9"/>
<rect x="993.5" y="625.5" width="5" height="5" fill="none" stroke="#3ee83e" stroke-width="1"/>
<rect x="1017.5" y="625.5" width="4" height="5" fill="none" stroke="#3ee83e" stroke-width="1"/>
<rect x="1029.5" y="625.5" width="4" height="5" fill="none" stroke="#3ee83e" stroke-width="1"/>
<rect x="1044.5" y="625.5" width="4" height="5" fill="none" stroke="#3ee83e" stroke-width="1"/>
<rect x="869.5" y="634.5" width="5" height="5" fill="none" stroke="#3ee83e" stroke-width="1"/>
<rect x="883.5" y="634.5" width="16" height="5" fill="none" stroke="#3ee83e" stroke-width="1"/>
<path d="M926.5 636.11L930 636.11 M927.55 635.27L927.55 639.47 M926.5 637.58L930 637.58 M929.5 636.11L929.5 639.47 M927.02 638.63L929.48 636.95" fill="none" stroke="#3ee83e" stroke-width="0.9"/>
<rect x="990.5" y="634.5" width="13" height="5" fill="none" stroke="#3ee83e" stroke-width="1"/>
<rect x="1017.5" y="634.5" width="4" height="5" fill="none" stroke="#3ee83e" stroke-width="1"/>
<rect x="1029.5" y="634.5" width="11" height="5" fill="none" stroke="#3ee83e" stroke-width="1"/>
<rect x="1044.5" y="634.5" width="12" height="5" fill="none" stroke="#3ee83e" stroke-width="1"/>
<rect x="869.5" y="644.5" width="5" height="4" fill="none" stroke="#3ee83e" stroke-width="1"/>
<rect x="883.5" y="644.5" width="22" height="4" fill="none" stroke="#3ee83e" stroke-width="1"/>
<path d="M926.5 645.26L930 645.26 M927.55 644.42L928.25 648.62 M926.5 646.73L930 646.73 M926.5 648.62L930 648.62 M927.02 647.78L929.48 646.1" fill="none" stroke="#3ee83e" stroke-width="0.9"/>
<path d="M931.3 645.26L934.8 645.26 M933.05 644.42L933.75 648.62 M931.3 646.73L934.8 646.73 M934.3 645.26L934.3 648.62 M931.82 647.78L934.27 646.1" fill="none" stroke="#3ee83e" stroke-width="0.9"/>
<path d="M936.1 645.26L939.6 645.26 M937.85 644.42L938.55 648.62 M936.6 645.68L936.6 648.62 M939.1 645.26L939.1 648.62 M936.62 647.78L939.08 646.1" fill="none" stroke="#3ee83e" stroke-width="0.9"/>
<path d="M940.9 645.26L944.4 645.26 M943.35 644.42L941.95 648.62 M941.4 645.68L941.4 648.62 M940.9 648.62L944.4 648.62 M941.42 647.78L943.88 646.1" fill="none" stroke="#3ee83e" stroke-width="0.9"/>
<path d="M945.7 645.26L949.2 645.26 M947.45 644.42L948.15 648.62 M946.2 645.68L946.2 648.62 M948.7 645.26L948.7 648.62 M946.23 647.78L948.68 646.1" fill="none" stroke="#3ee83e" stroke-width="0.9"/>
<path d="M950.5 645.26L954 645.26 M952.25 644.42L951.55 648.62 M950.5 646.73L954 646.73 M953.5 645.26L953.5 648.62 M951.02 647.78L953.48 646.1" fill="none" stroke="#3ee83e" stroke-width="0.9"/>
<rect x="990.5" y="644.5" width="13" height="4" fill="none" stroke="#3ee83e" stroke-width="1"/>
<rect x="1017.5" y="644.5" width="4" height="4" fill="none" stroke="#3ee83e" stroke-width="1"/>
<rect x="1029.5" y="644.5" width="11" height="4" fill="none" stroke="#3ee83e" stroke-width="1"/>
<rect x="1044.5" y="644.5" width="10" height="4" fill="none" stroke="#3ee83e" stroke-width="1"/>
<rect x="869.5" y="653.5" width="5" height="4" fill="none" stroke="#3ee83e" stroke-width="1"/>
<rect x="883.5" y="653.5" width="18" height="4" fill="none" stroke="#3ee83e" stroke-width="1"/>
<rect x="926.5" y="653.5" width="18" height="4" fill="none" stroke="#3ee83e" stroke-width="1"/>
<rect x="990.5" y="653.5" width="13" height="4" fill="none" stroke="#3ee83e" stroke-width="1"/>
<rect x="1017.5" y="653.5" width="4" height="4" fill="none" stroke="#3ee83e" stroke-width="1"/>
<rect x="1029.5" y="653.5" width="11" height="4" fill="none" stroke="#3ee83e" stroke-width="1"/>
<rect x="1044.5" y="653.5" width="12" height="4" fill="none" stroke="#3ee83e" stroke-width="1"/>
<rect x="869.5" y="662.5" width="5" height="4" fill="none" stroke="#3ee83e" stroke-width="1"/>
<rect x="883.5" y="662.5" width="18" height="4" fill="none" stroke="#3ee83e" stroke-width="1"/>
<rect x="926.5" y="662.5" width="28" height="4" fill="none" stroke="#3ee83e" stroke-width="1"/>
<rect x="993.5" y="662.5" width="7" height="4" fill="none" stroke="#3ee83e" stroke-width="1"/>
<rect x="1017.5" y="662.5" width="4" height="4" fill="none" stroke="#3ee83e" stroke-width="1"/>
<rect x="1029.5" y="662.5" width="9" height="4" fill="none" stroke="#3ee83e" stroke-width="1"/>
<rect x="1044.5" y="662.5" width="8" height="4" fill="none" stroke="#3ee83e" stroke-width="1"/>
<rect x="869.5" y="671.5" width="5" height="5" fill="none" stroke="#3ee83e" stroke-width="1"/>
<rect x="883.5" y="671.5" width="14" height="5" fill="none" stroke="#3ee83e" stroke-width="1"/>
<rect x="926.5" y="671.5" width="18" height="5" fill="none" stroke="#3ee83e" stroke-width="1"/>
<rect x="992.5" y="671.5" width="9" height="5" fill="none" stroke="#3ee83e" stroke-width="1"/>
<rect x="1017.5" y="671.5" width="4" height="5" fill="none" stroke="#3ee83e" stroke-width="1"/>
<rect x="1029.5" y="671.5" width="9" height="5" fill="none" stroke="#3ee83e" stroke-width="1"/>
<rect x="1044.5" y="671.5" width="12" height="5" fill="none" stroke="#3ee83e" stroke-width="1"/>
<line x1="864.5" y1="678.5" x2="1098" y2="678.5" stroke="#ffffff" stroke-width="1"/>
<line x1="864.5" y1="694.5" x2="1098" y2="694.5" stroke="#ffffff" stroke-width="1"/>
<line x1="1027.5" y1="685.5" x2="1058.5" y2="685.5" stroke="#3ee83e" stroke-width="1"/>
<path d="M865.5 684.7L869.1 684.7 M868.02 683.5L867.3 689.5 M865.5 686.8L869.1 686.8 M865.5 689.5L869.1 689.5 M866.04 688.3L868.56 685.9" fill="none" stroke="#3ee83e" stroke-width="1"/>
<path d="M869.9 684.7L873.5 684.7 M872.42 683.5L871.7 689.5 M870.4 685.3L870.4 689.5 M873 684.7L873 689.5 M870.44 688.3L872.96 685.9" fill="none" stroke="#3ee83e" stroke-width="1"/>
<path d="M888 684.7L893 684.7 M890.5 683.5L891.5 689.5 M888 686.8L893 686.8 M888 689.5L893 689.5 M888.75 688.3L892.25 685.9" fill="none" stroke="#3ee83e" stroke-width="1"/>
<path d="M907 684.7L912 684.7 M910.5 683.5L908.5 689.5 M907.5 685.3L907.5 689.5 M911.5 684.7L911.5 689.5 M907.75 688.3L911.25 685.9" fill="none" stroke="#3ee83e" stroke-width="1"/>
<path d="M936.5 684.8L942 684.8 M938.15 683.5L938.15 690 M936.5 687.08L942 687.08 M941.5 684.8L941.5 690 M937.33 688.7L941.17 686.1" fill="none" stroke="#3ee83e" stroke-width="1.1"/>
<path d="M957.5 684.8L963 684.8 M961.35 683.5L960.25 690 M957.5 687.08L963 687.08 M962.5 684.8L962.5 690 M958.33 688.7L962.17 686.1" fill="none" stroke="#3ee83e" stroke-width="1.1"/>
<path d="M987 684.7L991 684.7 M989.8 683.5L989.8 689.5 M987 686.8L991 686.8 M990.5 684.7L990.5 689.5 M987.6 688.3L990.4 685.9" fill="none" stroke="#3ee83e" stroke-width="1"/>
<path d="M997 684.7L1001.5 684.7 M1000.15 683.5L999.25 689.5 M997 686.8L1001.5 686.8 M997 689.5L1001.5 689.5 M997.67 688.3L1000.83 685.9" fill="none" stroke="#3ee83e" stroke-width="1"/>
<path d="M1012.5 684.7L1016.7 684.7 M1015.44 683.5L1015.44 689.5 M1012.5 686.8L1016.7 686.8 M1016.2 684.7L1016.2 689.5 M1013.13 688.3L1016.07 685.9" fill="none" stroke="#3ee83e" stroke-width="1"/>
<path d="M1017.5 684.7L1021.7 684.7 M1018.76 683.5L1018.76 689.5 M1017.5 686.8L1021.7 686.8 M1021.2 684.7L1021.2 689.5 M1018.13 688.3L1021.07 685.9" fill="none" stroke="#3ee83e" stroke-width="1"/>
<path d="M1029.5 680.6L1033 680.6 M1031.95 679.8L1031.95 683.8 M1030 681L1030 683.8 M1032.5 680.6L1032.5 683.8 M1030.03 683L1032.47 681.4" fill="none" stroke="#3ee83e" stroke-width="1"/>
<path d="M1034 680.6L1037.5 680.6 M1035.75 679.8L1035.05 683.8 M1034 682L1037.5 682 M1037 680.6L1037 683.8 M1034.53 683L1036.97 681.4" fill="none" stroke="#3ee83e" stroke-width="1"/>
<rect x="1045.5" y="679.5" width="10" height="5" fill="none" stroke="#3ee83e" stroke-width="1"/>
<rect x="1031.5" y="687.5" width="11" height="5" fill="none" stroke="#3ee83e" stroke-width="1"/>
<rect x="1047.5" y="687.5" width="5" height="5" fill="none" stroke="#3ee83e" stroke-width="1"/>
<path d="M1066 684.7L1070.5 684.7 M1067.35 683.5L1068.25 689.5 M1066 686.8L1070.5 686.8 M1070 684.7L1070 689.5 M1066.67 688.3L1069.83 685.9" fill="none" stroke="#3ee83e" stroke-width="1"/>
<path d="M1083 684.7L1087.5 684.7 M1085.25 683.5L1086.15 689.5 M1083 686.8L1087.5 686.8 M1087 684.7L1087 689.5 M1083.67 688.3L1086.83 685.9" fill="none" stroke="#3ee83e" stroke-width="1"/>
<line x1="864.5" y1="699.5" x2="944.5" y2="699.5" stroke="#3ee83e" stroke-width="1"/>
<line x1="864.5" y1="705.5" x2="944.5" y2="705.5" stroke="#3ee83e" stroke-width="1"/>
<line x1="864.5" y1="711.5" x2="944.5" y2="711.5" stroke="#3ee83e" stroke-width="1"/>
<line x1="864.5" y1="717.5" x2="944.5" y2="717.5" stroke="#3ee83e" stroke-width="1"/>
<line x1="864.5" y1="723.5" x2="944.5" y2="723.5" stroke="#3ee83e" stroke-width="1"/>
<line x1="864.5" y1="730.5" x2="944.5" y2="730.5" stroke="#3ee83e" stroke-width="1"/>
<line x1="864.5" y1="694.5" x2="864.5" y2="730.5" stroke="#3ee83e" stroke-width="1"/>
<line x1="874.5" y1="694.5" x2="874.5" y2="730.5" stroke="#3ee83e" stroke-width="1"/>
<line x1="884.5" y1="694.5" x2="884.5" y2="730.5" stroke="#3ee83e" stroke-width="1"/>
<line x1="898.5" y1="694.5" x2="898.5" y2="730.5" stroke="#3ee83e" stroke-width="1"/>
<line x1="921.5" y1="694.5" x2="921.5" y2="730.5" stroke="#3ee83e" stroke-width="1"/>
<line x1="933.5" y1="694.5" x2="933.5" y2="730.5" stroke="#3ee83e" stroke-width="1"/>
<line x1="944.5" y1="694.5" x2="944.5" y2="730.5" stroke="#3ee83e" stroke-width="1"/>
<rect x="866.5" y="724.5" width="7" height="5" fill="none" stroke="#3ee83e" stroke-width="1.2"/>
<rect x="876.5" y="724.5" width="7" height="5" fill="none" stroke="#3ee83e" stroke-width="1.2"/>
<rect x="886.5" y="724.5" width="11" height="5" fill="none" stroke="#3ee83e" stroke-width="1.2"/>
<rect x="900.5" y="724.5" width="20" height="5" fill="none" stroke="#3ee83e" stroke-width="1.2"/>
<rect x="923.5" y="724.5" width="9" height="5" fill="none" stroke="#3ee83e" stroke-width="1.2"/>
<rect x="935.5" y="724.5" width="8" height="5" fill="none" stroke="#3ee83e" stroke-width="1.2"/>
<line x1="864.5" y1="738.5" x2="944.5" y2="738.5" stroke="#3ee83e" stroke-width="1"/>
<line x1="864.5" y1="746.5" x2="944.5" y2="746.5" stroke="#3ee83e" stroke-width="1"/>
<line x1="864.5" y1="754.5" x2="944.5" y2="754.5" stroke="#3ee83e" stroke-width="1"/>
<line x1="864.5" y1="761.5" x2="944.5" y2="761.5" stroke="#3ee83e" stroke-width="1"/>
<line x1="864.5" y1="730.5" x2="864.5" y2="769.5" stroke="#3ee83e" stroke-width="1"/>
<line x1="879.5" y1="730.5" x2="879.5" y2="769.5" stroke="#3ee83e" stroke-width="1"/>
<line x1="901.5" y1="730.5" x2="901.5" y2="769.5" stroke="#3ee83e" stroke-width="1"/>
<line x1="922.5" y1="730.5" x2="922.5" y2="769.5" stroke="#3ee83e" stroke-width="1"/>
<line x1="944.5" y1="730.5" x2="944.5" y2="769.5" stroke="#3ee83e" stroke-width="1"/>
<rect x="867.5" y="732.5" width="10" height="5" fill="none" stroke="#3ee83e" stroke-width="1.2"/>
<rect x="867.5" y="740.5" width="10" height="5" fill="none" stroke="#3ee83e" stroke-width="1.2"/>
<path d="M866.5 749.4L870 749.4 M868.95 748.5L868.25 753 M866.5 750.98L870 750.98 M869.5 749.4L869.5 753 M867.02 752.1L869.48 750.3" fill="none" stroke="#3ee83e" stroke-width="1"/>
<path d="M871 749.4L874.5 749.4 M873.45 748.5L872.75 753 M871.5 749.85L871.5 753 M871 753L874.5 753 M871.52 752.1L873.98 750.3" fill="none" stroke="#3ee83e" stroke-width="1"/>
<rect x="867.5" y="756.5" width="10" height="4" fill="none" stroke="#3ee83e" stroke-width="1.2"/>
<rect x="867.5" y="763.5" width="10" height="4.5" fill="none" stroke="#3ee83e" stroke-width="1.2"/>
<rect x="904.5" y="732.5" width="16" height="5" fill="none" stroke="#3ee83e" stroke-width="1.2"/>
<rect x="904.5" y="739.5" width="16" height="6" fill="none" stroke="#3ee83e" stroke-width="1.2"/>
<line x1="909.5" y1="739.5" x2="909.5" y2="745.5" stroke="#3ee83e" stroke-width="1"/>
<line x1="914.5" y1="739.5" x2="914.5" y2="745.5" stroke="#3ee83e" stroke-width="1"/>
<rect x="904.5" y="748.5" width="16" height="4.5" fill="none" stroke="#3ee83e" stroke-width="1.2"/>
<rect x="904.5" y="763.5" width="16" height="4.5" fill="none" stroke="#3ee83e" stroke-width="1.2"/>
<line x1="944.5" y1="694.5" x2="944.5" y2="769.5" stroke="#ffffff" stroke-width="1"/>
<line x1="1023.5" y1="694.5" x2="1023.5" y2="769.5" stroke="#ffffff" stroke-width="1"/>
<line x1="944.5" y1="726.5" x2="1098" y2="726.5" stroke="#ffffff" stroke-width="1"/>
<line x1="944.5" y1="754.5" x2="1023.5" y2="754.5" stroke="#ffffff" stroke-width="1"/>
<line x1="944.5" y1="705.5" x2="1023.5" y2="705.5" stroke="#3ee83e" stroke-width="1"/>
<line x1="944.5" y1="716.5" x2="1023.5" y2="716.5" stroke="#3ee83e" stroke-width="1"/>
<line x1="964.5" y1="694.5" x2="964.5" y2="705.5" stroke="#3ee83e" stroke-width="1"/>
<line x1="984.5" y1="694.5" x2="984.5" y2="705.5" stroke="#3ee83e" stroke-width="1"/>
<line x1="1000.5" y1="694.5" x2="1000.5" y2="705.5" stroke="#3ee83e" stroke-width="1"/>
<line x1="1015.5" y1="694.5" x2="1015.5" y2="705.5" stroke="#3ee83e" stroke-width="1"/>
<line x1="982.5" y1="705.5" x2="982.5" y2="726" stroke="#3ee83e" stroke-width="1"/>
<line x1="999.5" y1="705.5" x2="999.5" y2="726" stroke="#3ee83e" stroke-width="1"/>
<rect x="947.5" y="697.5" width="15" height="6" fill="none" stroke="#3ee83e" stroke-width="1"/>
<rect x="954" y="698" width="2" height="5" fill="#2a2af0"/>
<rect x="966.5" y="697.5" width="16" height="6" fill="none" stroke="#3ee83e" stroke-width="1"/>
<rect x="974" y="698" width="2" height="5" fill="#2a2af0"/>
<rect x="985.5" y="697.5" width="14" height="6" fill="none" stroke="#3ee83e" stroke-width="1"/>
<line x1="1000.5" y1="703.5" x2="1007" y2="697" stroke="#3ee83e" stroke-width="1.15"/>
<line x1="1007" y1="703.5" x2="1014" y2="697" stroke="#3ee83e" stroke-width="1.15"/>
<rect x="1017.5" y="697.5" width="4" height="6" fill="none" stroke="#3ee83e" stroke-width="1"/>
<rect x="953.5" y="708.5" width="10" height="6" fill="none" stroke="#3ee83e" stroke-width="1"/>
<rect x="969.5" y="708.5" width="4" height="6" fill="none" stroke="#3ee83e" stroke-width="1"/>
<rect x="987.5" y="708.5" width="10" height="6" fill="none" stroke="#3ee83e" stroke-width="1"/>
<rect x="1005.5" y="708.5" width="13" height="6" fill="none" stroke="#3ee83e" stroke-width="1"/>
<rect x="958.5" y="719.5" width="7" height="5" fill="#2a2af0"/>
<rect x="986.5" y="719.5" width="6" height="5" fill="#2a2af0"/>
<rect x="1004.5" y="719.5" width="13" height="5" fill="none" stroke="#3ee83e" stroke-width="1"/>
<path d="M973 737.9L980.5 737.9 M975.25 736L978.25 745.5 M973 741.23L980.5 741.23 M980 737.9L980 745.5 M974.12 743.6L979.38 739.8" fill="none" stroke="#ffffff" stroke-width="1.3"/>
<path d="M982.1 737.9L989.6 737.9 M985.85 736L987.35 745.5 M982.6 738.85L982.6 745.5 M982.1 745.5L989.6 745.5 M983.23 743.6L988.48 739.8" fill="none" stroke="#ffffff" stroke-width="1.3"/>
<path d="M991.2 737.9L998.7 737.9 M996.45 736L993.45 745.5 M991.2 741.23L998.7 741.23 M991.2 745.5L998.7 745.5 M992.33 743.6L997.58 739.8" fill="none" stroke="#ffffff" stroke-width="1.3"/>
<path d="M978 760.8L984 760.8 M982.2 759.5L982.2 766 M978 763.08L984 763.08 M983.5 760.8L983.5 766 M978.9 764.7L983.1 762.1" fill="none" stroke="#ffffff" stroke-width="1.5"/>
<path d="M990.5 760.8L995.5 760.8 M993 759.5L992 766 M991 761.45L991 766 M995 760.8L995 766 M991.25 764.7L994.75 762.1" fill="none" stroke="#ffffff" stroke-width="1.1"/>
<text x="1061" y="715" font-family="Liberation Sans" font-size="10.5" fill="#ffffff" text-anchor="middle" textLength="16.5" lengthAdjust="spacingAndGlyphs">6862</text>
</svg></body></html>
